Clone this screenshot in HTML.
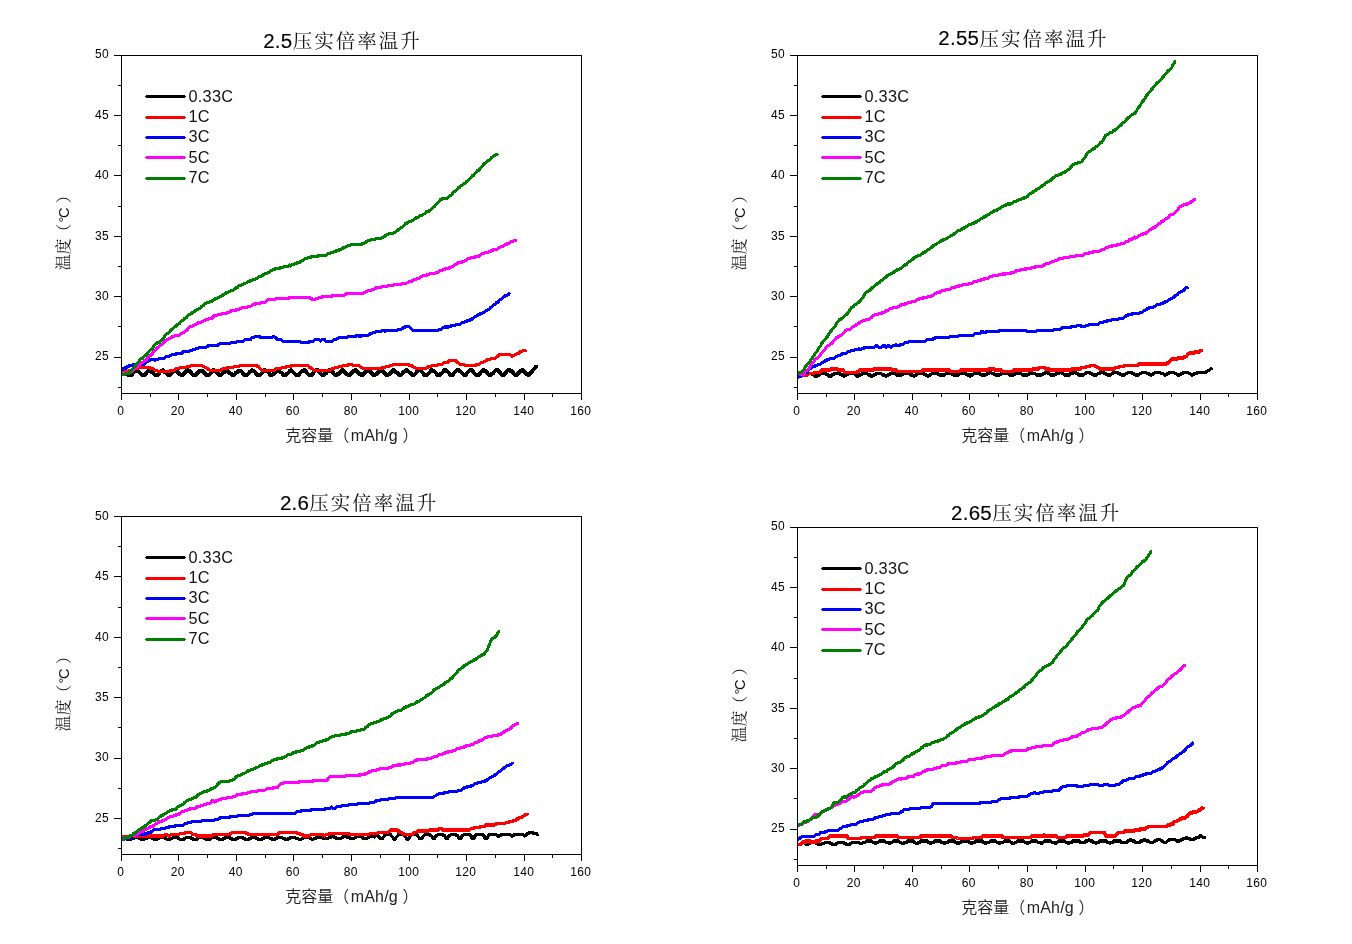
<!DOCTYPE html>
<html lang="zh"><head><meta charset="utf-8"><title>压实倍率温升</title>
<style>html,body{margin:0;padding:0;background:#fff;}svg{display:block;will-change:transform}</style></head><body>
<svg width="1352" height="944" viewBox="0 0 1352 944">
<g>
<clipPath id="cp1"><rect x="122" y="56" width="460" height="338"/></clipPath><g clip-path="url(#cp1)">
<polyline points="121.5,372.5 122.5,371.3 123.5,370.1 124.5,370.1 125.5,371.3 126.5,372.5 127.5,373.7 128.5,374.9 129.6,374.9 130.6,374.9 131.6,374.9 132.6,373.7 133.6,372.5 134.6,371.3 135.6,371.3 136.6,370.1 137.6,371.3 138.6,371.3 139.6,372.5 140.6,373.7 141.6,374.9 142.6,374.9 143.6,374.9 144.6,374.9 145.6,373.7 146.7,372.5 147.7,371.3 148.7,371.3 149.7,371.3 150.7,371.3 151.7,372.5 152.7,372.5 153.7,373.7 154.7,374.9 155.7,374.9 156.7,374.9 157.7,374.9 158.7,373.7 159.7,372.5 160.7,371.3 161.7,371.3 162.8,370.1 163.8,371.3 164.8,372.5 165.8,372.5 166.8,373.7 167.8,374.9 168.8,374.9 169.8,374.9 170.8,373.7 171.8,372.5 172.8,372.5 173.8,371.3 174.8,370.1 175.8,370.1 176.8,371.3 177.9,372.5 178.9,373.7 179.9,373.7 180.9,374.9 181.9,374.9 182.9,374.9 183.9,373.7 184.9,372.5 185.9,371.3 186.9,371.3 187.9,370.1 188.9,371.3 189.9,371.3 190.9,372.5 191.9,373.7 192.9,374.9 194.0,374.9 195.0,374.9 196.0,374.9 197.0,373.7 198.0,372.5 199.0,371.3 200.0,371.3 201.0,371.3 202.0,371.3 203.0,371.3 204.0,372.5 205.0,373.7 206.0,374.9 207.0,374.9 208.0,374.9 209.0,374.9 210.1,373.7 211.1,372.5 212.1,371.3 213.1,370.1 214.1,370.1 215.1,371.3 216.1,371.3 217.1,372.5 218.1,373.7 219.1,374.9 220.1,374.9 221.1,374.9 222.1,373.7 223.1,372.5 224.1,372.5 225.1,371.3 226.2,370.1 227.2,370.1 228.2,371.3 229.2,372.5 230.2,373.7 231.2,373.7 232.2,374.9 233.2,374.9 234.2,374.9 235.2,373.7 236.2,372.5 237.2,372.5 238.2,371.3 239.2,371.3 240.2,371.3 241.2,371.3 242.3,372.5 243.3,373.7 244.3,374.9 245.3,374.9 246.3,374.9 247.3,374.9 248.3,373.7 249.3,372.5 250.3,371.3 251.3,371.3 252.3,370.1 253.3,371.3 254.3,371.3 255.3,372.5 256.3,373.7 257.3,374.9 258.4,374.9 259.4,374.9 260.4,374.9 261.4,373.7 262.4,372.5 263.4,371.3 264.4,370.1 265.4,370.1 266.4,371.3 267.4,371.3 268.4,372.5 269.4,373.7 270.4,374.9 271.4,374.9 272.4,374.9 273.4,373.7 274.5,373.7 275.5,372.5 276.5,371.3 277.5,370.1 278.5,370.1 279.5,371.3 280.5,372.5 281.5,372.5 282.5,373.7 283.5,374.9 284.5,374.9 285.5,374.9 286.5,373.7 287.5,373.7 288.5,372.5 289.5,371.3 290.6,370.1 291.6,371.3 292.6,371.3 293.6,372.5 294.6,373.7 295.6,374.9 296.6,374.9 297.6,374.9 298.6,374.9 299.6,373.7 300.6,372.5 301.6,371.3 302.6,371.3 303.6,370.1 304.6,370.1 305.6,371.3 306.7,372.5 307.7,373.7 308.7,374.9 309.7,374.9 310.7,374.9 311.7,374.9 312.7,373.7 313.7,372.5 314.7,371.3 315.7,370.1 316.7,370.1 317.7,370.1 318.7,371.3 319.7,372.5 320.7,373.7 321.7,374.9 322.8,374.9 323.8,374.9 324.8,373.7 325.8,373.7 326.8,372.5 327.8,371.3 328.8,370.1 329.8,370.1 330.8,371.3 331.8,371.3 332.8,372.5 333.8,373.7 334.8,374.9 335.8,374.9 336.8,374.9 337.8,373.7 338.9,373.7 339.9,372.5 340.9,371.3 341.9,370.1 342.9,370.1 343.9,371.3 344.9,372.5 345.9,373.7 346.9,373.7 347.9,374.9 348.9,374.9 349.9,374.9 350.9,373.7 351.9,372.5 352.9,371.3 353.9,371.3 354.9,370.1 356.0,370.1 357.0,371.3 358.0,372.5 359.0,373.7 360.0,373.7 361.0,374.9 362.0,374.9 363.0,374.9 364.0,373.7 365.0,372.5 366.0,371.3 367.0,370.1 368.0,370.1 369.0,370.1 370.0,371.3 371.0,372.5 372.1,373.7 373.1,374.9 374.1,374.9 375.1,374.9 376.1,373.7 377.1,373.7 378.1,372.5 379.1,371.3 380.1,370.1 381.1,370.1 382.1,371.3 383.1,371.3 384.1,372.5 385.1,373.7 386.1,374.9 387.1,374.9 388.2,374.9 389.2,373.7 390.2,373.7 391.2,372.5 392.2,371.3 393.2,370.1 394.2,370.1 395.2,371.3 396.2,372.5 397.2,372.5 398.2,373.7 399.2,374.9 400.2,374.9 401.2,374.9 402.2,373.7 403.2,372.5 404.3,371.3 405.3,371.3 406.3,370.1 407.3,370.1 408.3,371.3 409.3,372.5 410.3,372.5 411.3,373.7 412.3,374.9 413.3,374.9 414.3,374.9 415.3,373.7 416.3,372.5 417.3,371.3 418.3,370.1 419.3,370.1 420.4,370.1 421.4,371.3 422.4,372.5 423.4,373.7 424.4,374.9 425.4,374.9 426.4,374.9 427.4,374.9 428.4,373.7 429.4,372.5 430.4,371.3 431.4,370.1 432.4,370.1 433.4,371.3 434.4,371.3 435.4,372.5 436.5,373.7 437.5,374.9 438.5,374.9 439.5,374.9 440.5,373.7 441.5,373.7 442.5,372.5 443.5,371.3 444.5,370.1 445.5,370.1 446.5,371.3 447.5,371.3 448.5,372.5 449.5,373.7 450.5,374.9 451.5,374.9 452.6,374.9 453.6,373.7 454.6,372.5 455.6,371.3 456.6,370.1 457.6,370.1 458.6,370.1 459.6,371.3 460.6,371.3 461.6,372.5 462.6,373.7 463.6,374.9 464.6,374.9 465.6,374.9 466.6,373.7 467.6,372.5 468.7,371.3 469.7,370.1 470.7,370.1 471.7,370.1 472.7,371.3 473.7,372.5 474.7,373.7 475.7,374.9 476.7,374.9 477.7,374.9 478.7,374.9 479.7,373.7 480.7,372.5 481.7,371.3 482.7,370.1 483.7,370.1 484.8,371.3 485.8,371.3 486.8,372.5 487.8,373.7 488.8,374.9 489.8,374.9 490.8,374.9 491.8,373.7 492.8,373.7 493.8,372.5 494.8,371.3 495.8,370.1 496.8,370.1 497.8,370.1 498.8,371.3 499.8,372.5 500.9,373.7 501.9,374.9 502.9,374.9 503.9,374.9 504.9,373.7 505.9,372.5 506.9,371.3 507.9,370.1 508.9,370.1 509.9,370.1 510.9,371.3 511.9,371.3 512.9,372.5 513.9,373.7 514.9,374.9 515.9,374.9 517.0,374.9 518.0,373.7 519.0,372.5 520.0,371.3 521.0,371.3 522.0,370.1 523.0,370.1 524.0,371.3 525.0,372.5 526.0,373.7 527.0,373.7 528.0,374.9 529.0,374.9 530.0,373.7 531.0,372.5 532.0,371.3 533.1,370.1 534.1,368.9 535.1,367.7 536.1,366.5" fill="none" stroke="#000000" stroke-width="3.9" stroke-linejoin="round" stroke-linecap="round" shape-rendering="crispEdges"/>
<polyline points="121.5,372.5 122.5,372.5 123.5,372.5 124.5,372.5 125.5,371.3 126.5,371.3 127.5,371.3 128.5,371.3 129.6,370.1 130.6,370.1 131.6,370.1 132.6,370.1 133.6,368.9 134.6,368.9 135.6,368.9 136.6,368.9 137.6,368.9 138.6,367.7 139.6,367.7 140.6,367.7 141.6,367.7 142.6,367.7 143.6,367.7 144.6,367.7 145.6,367.7 146.7,367.7 147.7,367.7 148.7,367.7 149.7,367.7 150.7,368.9 151.7,368.9 152.7,368.9 153.7,368.9 154.7,370.1 155.7,370.1 156.7,370.1 157.7,371.3 158.7,371.3 159.7,371.3 160.7,371.3 161.7,371.3 162.8,371.3 163.8,371.3 164.8,371.3 165.8,371.3 166.8,371.3 167.8,371.3 168.8,371.3 169.8,371.3 170.8,370.1 171.8,370.1 172.8,370.1 173.8,370.1 174.8,370.1 175.8,368.9 176.8,368.9 177.9,368.9 178.9,368.9 179.9,367.7 180.9,367.7 181.9,367.7 182.9,367.7 183.9,367.7 184.9,367.7 185.9,367.7 186.9,366.5 187.9,366.5 188.9,366.5 189.9,366.5 190.9,365.3 191.9,365.3 192.9,365.3 194.0,365.3 195.0,365.3 196.0,365.3 197.0,365.3 198.0,365.3 199.0,365.3 200.0,365.3 201.0,365.3 202.0,365.3 203.0,366.5 204.0,366.5 205.0,367.7 206.0,367.7 207.0,368.9 208.0,368.9 209.0,370.1 210.1,370.1 211.1,370.1 212.1,370.1 213.1,370.1 214.1,370.1 215.1,370.1 216.1,370.1 217.1,370.1 218.1,370.1 219.1,370.1 220.1,370.1 221.1,370.1 222.1,368.9 223.1,368.9 224.1,368.9 225.1,368.9 226.2,368.9 227.2,367.7 228.2,367.7 229.2,367.7 230.2,367.7 231.2,367.7 232.2,367.7 233.2,367.7 234.2,366.5 235.2,366.5 236.2,366.5 237.2,366.5 238.2,366.5 239.2,366.5 240.2,365.3 241.2,365.3 242.3,365.3 243.3,365.3 244.3,365.3 245.3,365.3 246.3,365.3 247.3,365.3 248.3,365.3 249.3,365.3 250.3,365.3 251.3,365.3 252.3,365.3 253.3,365.3 254.3,365.3 255.3,365.3 256.3,365.3 257.3,366.5 258.4,366.5 259.4,367.7 260.4,368.9 261.4,370.1 262.4,370.1 263.4,370.1 264.4,370.1 265.4,370.1 266.4,370.1 267.4,370.1 268.4,370.1 269.4,370.1 270.4,370.1 271.4,370.1 272.4,370.1 273.4,370.1 274.5,370.1 275.5,368.9 276.5,368.9 277.5,368.9 278.5,368.9 279.5,368.9 280.5,368.9 281.5,367.7 282.5,367.7 283.5,367.7 284.5,367.7 285.5,367.7 286.5,366.5 287.5,366.5 288.5,366.5 289.5,366.5 290.6,366.5 291.6,365.3 292.6,365.3 293.6,365.3 294.6,365.3 295.6,365.3 296.6,365.3 297.6,365.3 298.6,365.3 299.6,365.3 300.6,365.3 301.6,365.3 302.6,365.3 303.6,365.3 304.6,365.3 305.6,365.3 306.7,365.3 307.7,365.3 308.7,366.5 309.7,367.7 310.7,367.7 311.7,368.9 312.7,368.9 313.7,370.1 314.7,370.1 315.7,370.1 316.7,370.1 317.7,370.1 318.7,370.1 319.7,370.1 320.7,370.1 321.7,370.1 322.8,370.1 323.8,370.1 324.8,370.1 325.8,370.1 326.8,370.1 327.8,370.1 328.8,370.1 329.8,370.1 330.8,370.1 331.8,368.9 332.8,368.9 333.8,368.9 334.8,367.7 335.8,367.7 336.8,367.7 337.8,367.7 338.9,366.5 339.9,366.5 340.9,366.5 341.9,366.5 342.9,365.3 343.9,365.3 344.9,365.3 345.9,365.3 346.9,365.3 347.9,365.3 348.9,364.1 349.9,364.1 350.9,364.1 351.9,364.1 352.9,365.3 353.9,365.3 354.9,365.3 356.0,365.3 357.0,365.3 358.0,365.3 359.0,365.3 360.0,366.5 361.0,367.7 362.0,367.7 363.0,368.9 364.0,368.9 365.0,368.9 366.0,368.9 367.0,368.9 368.0,368.9 369.0,368.9 370.0,368.9 371.0,368.9 372.1,368.9 373.1,368.9 374.1,368.9 375.1,368.9 376.1,368.9 377.1,368.9 378.1,368.9 379.1,368.9 380.1,368.9 381.1,368.9 382.1,367.7 383.1,367.7 384.1,367.7 385.1,367.7 386.1,366.5 387.1,366.5 388.2,366.5 389.2,366.5 390.2,365.3 391.2,365.3 392.2,365.3 393.2,364.1 394.2,364.1 395.2,364.1 396.2,364.1 397.2,364.1 398.2,364.1 399.2,364.1 400.2,364.1 401.2,364.1 402.2,364.1 403.2,364.1 404.3,364.1 405.3,364.1 406.3,364.1 407.3,364.1 408.3,364.1 409.3,365.3 410.3,365.3 411.3,365.3 412.3,366.5 413.3,366.5 414.3,367.7 415.3,367.7 416.3,368.9 417.3,368.9 418.3,368.9 419.3,368.9 420.4,368.9 421.4,368.9 422.4,368.9 423.4,368.9 424.4,368.9 425.4,368.9 426.4,367.7 427.4,367.7 428.4,366.5 429.4,366.5 430.4,366.5 431.4,366.5 432.4,365.3 433.4,365.3 434.4,365.3 435.4,365.3 436.5,365.3 437.5,365.3 438.5,364.1 439.5,364.1 440.5,364.1 441.5,364.1 442.5,364.1 443.5,362.8 444.5,362.8 445.5,362.8 446.5,362.8 447.5,362.8 448.5,361.6 449.5,360.4 450.5,360.4 451.5,360.4 452.6,360.4 453.6,360.4 454.6,360.4 455.6,360.4 456.6,361.6 457.6,362.8 458.6,362.8 459.6,364.1 460.6,364.1 461.6,364.1 462.6,364.1 463.6,364.1 464.6,365.3 465.6,365.3 466.6,365.3 467.6,365.3 468.7,365.3 469.7,365.3 470.7,365.3 471.7,365.3 472.7,365.3 473.7,365.3 474.7,365.3 475.7,365.3 476.7,364.1 477.7,364.1 478.7,364.1 479.7,364.1 480.7,362.8 481.7,362.8 482.7,362.8 483.7,361.6 484.8,361.6 485.8,360.4 486.8,360.4 487.8,359.2 488.8,359.2 489.8,359.2 490.8,359.2 491.8,358.0 492.8,358.0 493.8,358.0 494.8,358.0 495.8,358.0 496.8,356.8 497.8,356.8 498.8,354.4 499.8,354.4 500.9,354.4 501.9,354.4 502.9,354.4 503.9,354.4 504.9,354.4 505.9,354.4 506.9,354.4 507.9,354.4 508.9,354.4 509.9,354.4 510.9,355.6 511.9,356.8 512.9,355.6 513.9,355.6 514.9,354.4 515.9,354.4 517.0,353.2 518.0,353.2 519.0,353.2 520.0,351.9 521.0,351.9 522.0,351.9 523.0,350.7 524.0,350.7 525.0,350.7 525.4,350.7" fill="none" stroke="#ff0000" stroke-width="3" stroke-linejoin="round" stroke-linecap="round" shape-rendering="crispEdges"/>
<polyline points="121.5,368.9 122.5,368.9 123.5,368.9 124.5,367.7 125.5,367.7 126.5,367.7 127.5,366.5 128.5,366.5 129.6,365.3 130.6,365.3 131.6,365.3 132.6,365.3 133.6,364.1 134.6,365.3 135.6,364.1 136.6,364.1 137.6,364.1 138.6,364.1 139.6,364.1 140.6,364.1 141.6,364.1 142.6,364.1 143.6,364.1 144.6,364.1 145.6,362.8 146.7,361.6 147.7,361.6 148.7,360.4 149.7,360.4 150.7,359.2 151.7,359.2 152.7,359.2 153.7,359.2 154.7,360.4 155.7,359.2 156.7,359.2 157.7,359.2 158.7,359.2 159.7,358.0 160.7,358.0 161.7,358.0 162.8,358.0 163.8,358.0 164.8,358.0 165.8,356.8 166.8,356.8 167.8,356.8 168.8,356.8 169.8,355.6 170.8,355.6 171.8,354.4 172.8,354.4 173.8,354.4 174.8,354.4 175.8,354.4 176.8,353.2 177.9,353.2 178.9,353.2 179.9,353.2 180.9,353.2 181.9,353.2 182.9,351.9 183.9,351.9 184.9,351.9 185.9,351.9 186.9,351.9 187.9,351.9 188.9,351.9 189.9,350.7 190.9,350.7 191.9,350.7 192.9,349.5 194.0,349.5 195.0,349.5 196.0,348.3 197.0,348.3 198.0,348.3 199.0,347.1 200.0,347.1 201.0,347.1 202.0,347.1 203.0,347.1 204.0,347.1 205.0,347.1 206.0,347.1 207.0,347.1 208.0,345.9 209.0,345.9 210.1,345.9 211.1,345.9 212.1,345.9 213.1,345.9 214.1,345.9 215.1,345.9 216.1,345.9 217.1,345.9 218.1,344.7 219.1,344.7 220.1,343.5 221.1,343.5 222.1,343.5 223.1,343.5 224.1,343.5 225.1,343.5 226.2,343.5 227.2,343.5 228.2,343.5 229.2,343.5 230.2,343.5 231.2,342.3 232.2,342.3 233.2,342.3 234.2,342.3 235.2,342.3 236.2,342.3 237.2,341.1 238.2,341.1 239.2,341.1 240.2,341.1 241.2,341.1 242.3,341.1 243.3,341.1 244.3,339.8 245.3,339.8 246.3,339.8 247.3,339.8 248.3,339.8 249.3,339.8 250.3,339.8 251.3,338.6 252.3,337.4 253.3,337.4 254.3,337.4 255.3,336.2 256.3,336.2 257.3,336.2 258.4,336.2 259.4,336.2 260.4,337.4 261.4,337.4 262.4,337.4 263.4,337.4 264.4,337.4 265.4,337.4 266.4,337.4 267.4,337.4 268.4,337.4 269.4,337.4 270.4,337.4 271.4,337.4 272.4,337.4 273.4,336.2 274.5,337.4 275.5,337.4 276.5,338.6 277.5,339.8 278.5,339.8 279.5,339.8 280.5,339.8 281.5,339.8 282.5,341.1 283.5,341.1 284.5,341.1 285.5,341.1 286.5,341.1 287.5,341.1 288.5,341.1 289.5,341.1 290.6,341.1 291.6,341.1 292.6,341.1 293.6,341.1 294.6,341.1 295.6,341.1 296.6,341.1 297.6,341.1 298.6,341.1 299.6,341.1 300.6,342.3 301.6,342.3 302.6,342.3 303.6,342.3 304.6,342.3 305.6,342.3 306.7,342.3 307.7,342.3 308.7,342.3 309.7,341.1 310.7,341.1 311.7,341.1 312.7,341.1 313.7,341.1 314.7,339.8 315.7,339.8 316.7,339.8 317.7,339.8 318.7,339.8 319.7,339.8 320.7,341.1 321.7,339.8 322.8,339.8 323.8,339.8 324.8,339.8 325.8,341.1 326.8,341.1 327.8,341.1 328.8,341.1 329.8,341.1 330.8,341.1 331.8,341.1 332.8,341.1 333.8,339.8 334.8,339.8 335.8,339.8 336.8,338.6 337.8,338.6 338.9,337.4 339.9,337.4 340.9,337.4 341.9,337.4 342.9,337.4 343.9,337.4 344.9,337.4 345.9,337.4 346.9,337.4 347.9,336.2 348.9,336.2 349.9,336.2 350.9,336.2 351.9,336.2 352.9,336.2 353.9,336.2 354.9,336.2 356.0,336.2 357.0,335.0 358.0,335.0 359.0,336.2 360.0,336.2 361.0,336.2 362.0,335.0 363.0,335.0 364.0,335.0 365.0,335.0 366.0,335.0 367.0,335.0 368.0,335.0 369.0,335.0 370.0,333.8 371.0,333.8 372.1,333.8 373.1,332.6 374.1,332.6 375.1,332.6 376.1,331.4 377.1,331.4 378.1,331.4 379.1,331.4 380.1,331.4 381.1,331.4 382.1,330.2 383.1,330.2 384.1,330.2 385.1,331.4 386.1,330.2 387.1,330.2 388.2,330.2 389.2,330.2 390.2,330.2 391.2,330.2 392.2,330.2 393.2,330.2 394.2,330.2 395.2,330.2 396.2,330.2 397.2,330.2 398.2,329.0 399.2,329.0 400.2,329.0 401.2,329.0 402.2,329.0 403.2,327.8 404.3,327.8 405.3,326.5 406.3,326.5 407.3,326.5 408.3,326.5 409.3,326.5 410.3,327.8 411.3,329.0 412.3,330.2 413.3,330.2 414.3,330.2 415.3,330.2 416.3,330.2 417.3,330.2 418.3,330.2 419.3,330.2 420.4,330.2 421.4,330.2 422.4,330.2 423.4,330.2 424.4,330.2 425.4,330.2 426.4,330.2 427.4,330.2 428.4,330.2 429.4,330.2 430.4,330.2 431.4,330.2 432.4,330.2 433.4,330.2 434.4,330.2 435.4,330.2 436.5,330.2 437.5,330.2 438.5,330.2 439.5,329.0 440.5,329.0 441.5,329.0 442.5,327.8 443.5,327.8 444.5,327.8 445.5,326.5 446.5,327.8 447.5,327.8 448.5,326.5 449.5,326.5 450.5,326.5 451.5,325.3 452.6,325.3 453.6,325.3 454.6,325.3 455.6,325.3 456.6,324.1 457.6,324.1 458.6,324.1 459.6,324.1 460.6,324.1 461.6,322.9 462.6,322.9 463.6,322.9 464.6,321.7 465.6,321.7 466.6,321.7 467.6,320.5 468.7,320.5 469.7,320.5 470.7,319.3 471.7,319.3 472.7,318.1 473.7,318.1 474.7,316.9 475.7,316.9 476.7,315.6 477.7,315.6 478.7,314.4 479.7,314.4 480.7,313.2 481.7,313.2 482.7,313.2 483.7,312.0 484.8,312.0 485.8,310.8 486.8,310.8 487.8,309.6 488.8,309.6 489.8,308.4 490.8,307.2 491.8,307.2 492.8,306.0 493.8,304.8 494.8,304.8 495.8,303.5 496.8,302.3 497.8,302.3 498.8,301.1 499.8,299.9 500.9,299.9 501.9,298.7 502.9,297.5 503.9,296.3 504.9,296.3 505.9,295.1 506.9,295.1 507.9,295.1 508.9,293.9 509.2,293.9" fill="none" stroke="#0000ff" stroke-width="3" stroke-linejoin="round" stroke-linecap="round" shape-rendering="crispEdges"/>
<polyline points="121.5,373.7 122.5,373.7 123.5,373.7 124.5,372.5 125.5,372.5 126.5,372.5 127.5,372.5 128.5,372.5 129.6,372.5 130.6,372.5 131.6,371.3 132.6,370.1 133.6,370.1 134.6,368.9 135.6,367.7 136.6,367.7 137.6,366.5 138.6,365.3 139.6,365.3 140.6,364.1 141.6,362.8 142.6,362.8 143.6,361.6 144.6,360.4 145.6,360.4 146.7,359.2 147.7,358.0 148.7,356.8 149.7,355.6 150.7,355.6 151.7,354.4 152.7,353.2 153.7,351.9 154.7,350.7 155.7,349.5 156.7,348.3 157.7,347.1 158.7,347.1 159.7,345.9 160.7,344.7 161.7,344.7 162.8,343.5 163.8,342.3 164.8,341.1 165.8,341.1 166.8,339.8 167.8,339.8 168.8,338.6 169.8,338.6 170.8,337.4 171.8,337.4 172.8,336.2 173.8,336.2 174.8,336.2 175.8,335.0 176.8,335.0 177.9,335.0 178.9,335.0 179.9,335.0 180.9,333.8 181.9,333.8 182.9,332.6 183.9,332.6 184.9,331.4 185.9,330.2 186.9,330.2 187.9,329.0 188.9,327.8 189.9,326.5 190.9,326.5 191.9,326.5 192.9,325.3 194.0,325.3 195.0,324.1 196.0,324.1 197.0,324.1 198.0,322.9 199.0,322.9 200.0,322.9 201.0,322.9 202.0,321.7 203.0,321.7 204.0,320.5 205.0,320.5 206.0,319.3 207.0,319.3 208.0,319.3 209.0,318.1 210.1,318.1 211.1,318.1 212.1,318.1 213.1,316.9 214.1,315.6 215.1,315.6 216.1,315.6 217.1,315.6 218.1,314.4 219.1,314.4 220.1,314.4 221.1,314.4 222.1,313.2 223.1,313.2 224.1,313.2 225.1,313.2 226.2,313.2 227.2,312.0 228.2,312.0 229.2,312.0 230.2,312.0 231.2,310.8 232.2,310.8 233.2,310.8 234.2,310.8 235.2,310.8 236.2,309.6 237.2,309.6 238.2,309.6 239.2,309.6 240.2,308.4 241.2,308.4 242.3,307.2 243.3,307.2 244.3,307.2 245.3,307.2 246.3,307.2 247.3,307.2 248.3,306.0 249.3,306.0 250.3,306.0 251.3,306.0 252.3,304.8 253.3,304.8 254.3,304.8 255.3,303.5 256.3,303.5 257.3,303.5 258.4,303.5 259.4,303.5 260.4,303.5 261.4,302.3 262.4,302.3 263.4,302.3 264.4,302.3 265.4,302.3 266.4,301.1 267.4,299.9 268.4,299.9 269.4,299.9 270.4,299.9 271.4,299.9 272.4,299.9 273.4,299.9 274.5,299.9 275.5,298.7 276.5,298.7 277.5,298.7 278.5,298.7 279.5,298.7 280.5,298.7 281.5,298.7 282.5,298.7 283.5,298.7 284.5,298.7 285.5,298.7 286.5,298.7 287.5,298.7 288.5,298.7 289.5,297.5 290.6,297.5 291.6,297.5 292.6,297.5 293.6,297.5 294.6,297.5 295.6,297.5 296.6,297.5 297.6,297.5 298.6,297.5 299.6,297.5 300.6,297.5 301.6,297.5 302.6,297.5 303.6,297.5 304.6,297.5 305.6,297.5 306.7,297.5 307.7,297.5 308.7,297.5 309.7,297.5 310.7,298.7 311.7,298.7 312.7,299.9 313.7,299.9 314.7,299.9 315.7,298.7 316.7,298.7 317.7,298.7 318.7,297.5 319.7,297.5 320.7,297.5 321.7,297.5 322.8,296.3 323.8,296.3 324.8,296.3 325.8,296.3 326.8,296.3 327.8,296.3 328.8,296.3 329.8,296.3 330.8,296.3 331.8,296.3 332.8,295.1 333.8,295.1 334.8,295.1 335.8,295.1 336.8,295.1 337.8,295.1 338.9,295.1 339.9,295.1 340.9,295.1 341.9,295.1 342.9,295.1 343.9,295.1 344.9,295.1 345.9,293.9 346.9,293.9 347.9,293.9 348.9,293.9 349.9,293.9 350.9,293.9 351.9,293.9 352.9,293.9 353.9,293.9 354.9,293.9 356.0,293.9 357.0,293.9 358.0,293.9 359.0,293.9 360.0,293.9 361.0,293.9 362.0,293.9 363.0,293.9 364.0,292.7 365.0,292.7 366.0,291.4 367.0,291.4 368.0,290.2 369.0,290.2 370.0,290.2 371.0,290.2 372.1,289.0 373.1,289.0 374.1,289.0 375.1,289.0 376.1,287.8 377.1,287.8 378.1,287.8 379.1,287.8 380.1,287.8 381.1,287.8 382.1,286.6 383.1,286.6 384.1,286.6 385.1,286.6 386.1,286.6 387.1,286.6 388.2,285.4 389.2,285.4 390.2,285.4 391.2,285.4 392.2,285.4 393.2,285.4 394.2,284.2 395.2,284.2 396.2,284.2 397.2,284.2 398.2,284.2 399.2,284.2 400.2,284.2 401.2,284.2 402.2,283.0 403.2,283.0 404.3,283.0 405.3,283.0 406.3,283.0 407.3,283.0 408.3,281.8 409.3,281.8 410.3,281.8 411.3,281.8 412.3,280.6 413.3,280.6 414.3,279.4 415.3,279.4 416.3,279.4 417.3,278.1 418.3,278.1 419.3,278.1 420.4,276.9 421.4,276.9 422.4,275.7 423.4,275.7 424.4,275.7 425.4,275.7 426.4,275.7 427.4,274.5 428.4,274.5 429.4,274.5 430.4,273.3 431.4,273.3 432.4,273.3 433.4,273.3 434.4,273.3 435.4,273.3 436.5,272.1 437.5,272.1 438.5,272.1 439.5,270.9 440.5,270.9 441.5,270.9 442.5,269.7 443.5,269.7 444.5,269.7 445.5,268.5 446.5,268.5 447.5,268.5 448.5,268.5 449.5,267.2 450.5,267.2 451.5,267.2 452.6,266.0 453.6,266.0 454.6,264.8 455.6,264.8 456.6,263.6 457.6,263.6 458.6,262.4 459.6,262.4 460.6,262.4 461.6,262.4 462.6,261.2 463.6,261.2 464.6,261.2 465.6,260.0 466.6,260.0 467.6,258.8 468.7,258.8 469.7,258.8 470.7,257.6 471.7,257.6 472.7,257.6 473.7,257.6 474.7,257.6 475.7,256.4 476.7,256.4 477.7,256.4 478.7,256.4 479.7,255.2 480.7,255.2 481.7,253.9 482.7,253.9 483.7,253.9 484.8,252.7 485.8,252.7 486.8,252.7 487.8,252.7 488.8,251.5 489.8,251.5 490.8,251.5 491.8,250.3 492.8,250.3 493.8,249.1 494.8,249.1 495.8,249.1 496.8,249.1 497.8,249.1 498.8,247.9 499.8,247.9 500.9,246.7 501.9,246.7 502.9,246.7 503.9,245.5 504.9,244.3 505.9,244.3 506.9,244.3 507.9,243.0 508.9,243.0 509.9,243.0 510.9,241.8 511.9,241.8 512.9,241.8 513.9,240.6 514.9,240.6 515.9,240.6 516.0,240.6" fill="none" stroke="#ff00ff" stroke-width="3" stroke-linejoin="round" stroke-linecap="round" shape-rendering="crispEdges"/>
<polyline points="121.5,374.9 122.5,374.9 123.5,374.9 124.5,374.9 125.5,373.7 126.5,373.7 127.5,373.7 128.5,373.7 129.6,372.5 130.6,371.3 131.6,370.1 132.6,368.9 133.6,367.7 134.6,366.5 135.6,365.3 136.6,364.1 137.6,362.8 138.6,361.6 139.6,360.4 140.6,359.2 141.6,358.0 142.6,358.0 143.6,356.8 144.6,355.6 145.6,355.6 146.7,354.4 147.7,353.2 148.7,351.9 149.7,350.7 150.7,349.5 151.7,349.5 152.7,348.3 153.7,345.9 154.7,344.7 155.7,343.5 156.7,343.5 157.7,342.3 158.7,342.3 159.7,342.3 160.7,341.1 161.7,339.8 162.8,338.6 163.8,338.6 164.8,336.2 165.8,335.0 166.8,333.8 167.8,333.8 168.8,332.6 169.8,331.4 170.8,330.2 171.8,329.0 172.8,329.0 173.8,327.8 174.8,326.5 175.8,326.5 176.8,325.3 177.9,324.1 178.9,324.1 179.9,322.9 180.9,321.7 181.9,320.5 182.9,320.5 183.9,319.3 184.9,318.1 185.9,318.1 186.9,316.9 187.9,315.6 188.9,314.4 189.9,314.4 190.9,313.2 191.9,313.2 192.9,312.0 194.0,312.0 195.0,310.8 196.0,310.8 197.0,309.6 198.0,309.6 199.0,308.4 200.0,308.4 201.0,307.2 202.0,306.0 203.0,306.0 204.0,304.8 205.0,303.5 206.0,303.5 207.0,302.3 208.0,302.3 209.0,302.3 210.1,301.1 211.1,301.1 212.1,301.1 213.1,299.9 214.1,299.9 215.1,298.7 216.1,298.7 217.1,298.7 218.1,297.5 219.1,297.5 220.1,296.3 221.1,296.3 222.1,295.1 223.1,295.1 224.1,293.9 225.1,293.9 226.2,292.7 227.2,292.7 228.2,292.7 229.2,291.4 230.2,291.4 231.2,290.2 232.2,290.2 233.2,290.2 234.2,289.0 235.2,289.0 236.2,287.8 237.2,287.8 238.2,286.6 239.2,285.4 240.2,285.4 241.2,285.4 242.3,284.2 243.3,284.2 244.3,283.0 245.3,283.0 246.3,283.0 247.3,281.8 248.3,281.8 249.3,281.8 250.3,280.6 251.3,280.6 252.3,280.6 253.3,279.4 254.3,279.4 255.3,279.4 256.3,278.1 257.3,278.1 258.4,276.9 259.4,276.9 260.4,276.9 261.4,275.7 262.4,275.7 263.4,274.5 264.4,274.5 265.4,273.3 266.4,273.3 267.4,273.3 268.4,272.1 269.4,272.1 270.4,270.9 271.4,270.9 272.4,269.7 273.4,269.7 274.5,269.7 275.5,268.5 276.5,268.5 277.5,268.5 278.5,268.5 279.5,268.5 280.5,267.2 281.5,267.2 282.5,267.2 283.5,267.2 284.5,266.0 285.5,266.0 286.5,266.0 287.5,266.0 288.5,266.0 289.5,264.8 290.6,266.0 291.6,264.8 292.6,264.8 293.6,264.8 294.6,263.6 295.6,263.6 296.6,263.6 297.6,262.4 298.6,262.4 299.6,262.4 300.6,261.2 301.6,261.2 302.6,260.0 303.6,260.0 304.6,258.8 305.6,258.8 306.7,258.8 307.7,257.6 308.7,257.6 309.7,257.6 310.7,257.6 311.7,256.4 312.7,256.4 313.7,256.4 314.7,256.4 315.7,256.4 316.7,256.4 317.7,256.4 318.7,255.2 319.7,255.2 320.7,255.2 321.7,255.2 322.8,255.2 323.8,255.2 324.8,255.2 325.8,255.2 326.8,255.2 327.8,253.9 328.8,253.9 329.8,253.9 330.8,252.7 331.8,252.7 332.8,252.7 333.8,251.5 334.8,251.5 335.8,251.5 336.8,250.3 337.8,250.3 338.9,250.3 339.9,249.1 340.9,249.1 341.9,249.1 342.9,247.9 343.9,247.9 344.9,247.9 345.9,246.7 346.9,246.7 347.9,245.5 348.9,245.5 349.9,245.5 350.9,244.3 351.9,244.3 352.9,244.3 353.9,244.3 354.9,244.3 356.0,244.3 357.0,244.3 358.0,244.3 359.0,244.3 360.0,244.3 361.0,244.3 362.0,244.3 363.0,243.0 364.0,243.0 365.0,243.0 366.0,241.8 367.0,241.8 368.0,240.6 369.0,240.6 370.0,240.6 371.0,239.4 372.1,239.4 373.1,239.4 374.1,239.4 375.1,239.4 376.1,238.2 377.1,238.2 378.1,238.2 379.1,238.2 380.1,238.2 381.1,238.2 382.1,237.0 383.1,237.0 384.1,237.0 385.1,235.8 386.1,235.8 387.1,234.6 388.2,234.6 389.2,233.4 390.2,233.4 391.2,233.4 392.2,233.4 393.2,233.4 394.2,232.2 395.2,232.2 396.2,230.9 397.2,230.9 398.2,229.7 399.2,229.7 400.2,228.5 401.2,227.3 402.2,227.3 403.2,226.1 404.3,224.9 405.3,223.7 406.3,223.7 407.3,222.5 408.3,222.5 409.3,221.3 410.3,221.3 411.3,221.3 412.3,220.1 413.3,220.1 414.3,218.8 415.3,218.8 416.3,217.6 417.3,217.6 418.3,217.6 419.3,216.4 420.4,215.2 421.4,215.2 422.4,215.2 423.4,214.0 424.4,214.0 425.4,212.8 426.4,211.6 427.4,211.6 428.4,211.6 429.4,210.4 430.4,210.4 431.4,209.2 432.4,208.0 433.4,206.8 434.4,206.8 435.4,205.5 436.5,204.3 437.5,203.1 438.5,201.9 439.5,200.7 440.5,199.5 441.5,199.5 442.5,198.3 443.5,198.3 444.5,198.3 445.5,198.3 446.5,198.3 447.5,198.3 448.5,197.1 449.5,195.9 450.5,195.9 451.5,194.7 452.6,193.4 453.6,192.2 454.6,191.0 455.6,191.0 456.6,189.8 457.6,188.6 458.6,187.4 459.6,187.4 460.6,186.2 461.6,185.0 462.6,185.0 463.6,183.8 464.6,183.8 465.6,182.6 466.6,181.3 467.6,181.3 468.7,180.1 469.7,178.9 470.7,177.7 471.7,176.5 472.7,175.3 473.7,175.3 474.7,174.1 475.7,172.9 476.7,171.7 477.7,170.4 478.7,170.4 479.7,169.2 480.7,168.0 481.7,166.8 482.7,165.6 483.7,164.4 484.8,163.2 485.8,163.2 486.8,162.0 487.8,160.8 488.8,160.8 489.8,159.6 490.8,158.3 491.8,157.1 492.8,157.1 493.8,155.9 494.8,155.9 495.8,154.7 496.8,154.7 497.1,154.7" fill="none" stroke="#008000" stroke-width="3" stroke-linejoin="round" stroke-linecap="round" shape-rendering="crispEdges"/>
</g>
<g fill="#000" shape-rendering="crispEdges">
<rect x="121" y="55" width="461" height="1"/>
<rect x="121" y="393" width="461" height="1"/>
<rect x="121" y="55" width="1" height="339"/>
<rect x="581" y="55" width="1" height="339"/>
<rect x="118" y="387" width="3" height="1"/>
<rect x="114" y="357" width="7" height="1"/>
<rect x="118" y="326" width="3" height="1"/>
<rect x="114" y="296" width="7" height="1"/>
<rect x="118" y="266" width="3" height="1"/>
<rect x="114" y="236" width="7" height="1"/>
<rect x="118" y="206" width="3" height="1"/>
<rect x="114" y="175" width="7" height="1"/>
<rect x="118" y="145" width="3" height="1"/>
<rect x="114" y="115" width="7" height="1"/>
<rect x="118" y="85" width="3" height="1"/>
<rect x="114" y="55" width="7" height="1"/>
<rect x="121" y="394" width="1" height="6"/>
<rect x="150" y="394" width="1" height="3"/>
<rect x="178" y="394" width="1" height="6"/>
<rect x="207" y="394" width="1" height="3"/>
<rect x="236" y="394" width="1" height="6"/>
<rect x="265" y="394" width="1" height="3"/>
<rect x="293" y="394" width="1" height="6"/>
<rect x="322" y="394" width="1" height="3"/>
<rect x="351" y="394" width="1" height="6"/>
<rect x="380" y="394" width="1" height="3"/>
<rect x="409" y="394" width="1" height="6"/>
<rect x="437" y="394" width="1" height="3"/>
<rect x="466" y="394" width="1" height="6"/>
<rect x="495" y="394" width="1" height="3"/>
<rect x="524" y="394" width="1" height="6"/>
<rect x="552" y="394" width="1" height="3"/>
<rect x="581" y="394" width="1" height="6"/>
</g>
<g font-family="'Liberation Sans','Noto Sans CJK SC',sans-serif" font-size="12" fill="#000" letter-spacing="0.3">
<text x="109.05" y="360.2" text-anchor="end">25</text>
<text x="109.05" y="300.2" text-anchor="end">30</text>
<text x="109.05" y="240.2" text-anchor="end">35</text>
<text x="109.05" y="179.2" text-anchor="end">40</text>
<text x="109.05" y="119.2" text-anchor="end">45</text>
<text x="109.05" y="58.2" text-anchor="end">50</text>
<text x="120.8" y="415.0" text-anchor="middle">0</text>
<text x="177.8" y="415.0" text-anchor="middle">20</text>
<text x="235.8" y="415.0" text-anchor="middle">40</text>
<text x="292.8" y="415.0" text-anchor="middle">60</text>
<text x="350.8" y="415.0" text-anchor="middle">80</text>
<text x="408.8" y="415.0" text-anchor="middle">100</text>
<text x="465.8" y="415.0" text-anchor="middle">120</text>
<text x="523.8" y="415.0" text-anchor="middle">140</text>
<text x="580.8" y="415.0" text-anchor="middle">160</text>
</g>
<g fill="#000000" shape-rendering="crispEdges"><rect x="146" y="95" width="39" height="3"/><rect x="145" y="96" width="41" height="1"/></g>
<text x="188.4" y="101.8" font-family="'Liberation Sans','Noto Sans CJK SC',sans-serif" font-size="16.3" letter-spacing="0.3" fill="#111">0.33C</text>
<g fill="#ff0000" shape-rendering="crispEdges"><rect x="146" y="116" width="39" height="3"/><rect x="145" y="117" width="41" height="1"/></g>
<text x="188.4" y="122.0" font-family="'Liberation Sans','Noto Sans CJK SC',sans-serif" font-size="16.3" letter-spacing="0.3" fill="#111">1C</text>
<g fill="#0000ff" shape-rendering="crispEdges"><rect x="146" y="136" width="39" height="3"/><rect x="145" y="137" width="41" height="1"/></g>
<text x="188.4" y="142.3" font-family="'Liberation Sans','Noto Sans CJK SC',sans-serif" font-size="16.3" letter-spacing="0.3" fill="#111">3C</text>
<g fill="#ff00ff" shape-rendering="crispEdges"><rect x="146" y="156" width="39" height="3"/><rect x="145" y="157" width="41" height="1"/></g>
<text x="188.4" y="162.6" font-family="'Liberation Sans','Noto Sans CJK SC',sans-serif" font-size="16.3" letter-spacing="0.3" fill="#111">5C</text>
<g fill="#008000" shape-rendering="crispEdges"><rect x="146" y="177" width="39" height="3"/><rect x="145" y="178" width="41" height="1"/></g>
<text x="188.4" y="182.8" font-family="'Liberation Sans','Noto Sans CJK SC',sans-serif" font-size="16.3" letter-spacing="0.3" fill="#111">7C</text>
<text x="263.2" y="47.7" font-size="20.5" fill="#000" stroke="#000" stroke-width="0.15" font-family="'Liberation Sans','Noto Serif CJK SC',serif" letter-spacing="0.25">2.5<tspan font-size="19.5" font-weight="400" fill="#111" stroke="none" letter-spacing="2.0" dx="0.2" dy="0.6">压实倍率温升</tspan></text>
<text x="285.3" y="440.8" font-size="16" fill="#222" font-family="'Liberation Sans','Noto Sans CJK SC',sans-serif"><tspan font-weight="350">克容量（</tspan><tspan dx="1.4" letter-spacing="0.2">mAh/g</tspan><tspan dx="4.6" font-weight="350">）</tspan></text>
<text transform="translate(68.5,270.5) rotate(-90)" font-size="16" fill="#111" font-family="'Liberation Sans','Noto Serif CJK SC',serif"><tspan font-weight="400">温度</tspan><tspan dx="-1.2">（</tspan><tspan font-size="14.6" dx="1.2">°</tspan><tspan font-size="14.6" dx="-1.4">C</tspan><tspan dx="4.2">）</tspan></text>
</g>
<g>
<clipPath id="cp2"><rect x="798" y="56" width="460" height="338"/></clipPath><g clip-path="url(#cp2)">
<polyline points="811.9,373.7 812.9,374.9 813.9,374.9 814.9,376.1 815.9,376.1 816.9,376.1 817.9,374.9 818.9,374.9 819.9,374.9 820.9,373.7 821.9,373.7 822.9,373.7 824.0,373.7 825.0,373.7 826.0,373.7 827.0,374.9 828.0,374.9 829.0,376.1 830.0,376.1 831.0,376.1 832.0,374.9 833.0,374.9 834.0,373.7 835.0,373.7 836.0,373.7 837.0,373.7 838.0,373.7 839.0,373.7 840.0,373.7 841.1,374.9 842.1,374.9 843.1,374.9 844.1,376.1 845.1,374.9 846.1,374.9 847.1,374.9 848.1,373.7 849.1,373.7 850.1,373.7 851.1,373.7 852.1,373.7 853.1,373.7 854.1,373.7 855.1,374.9 856.1,374.9 857.2,376.1 858.2,376.1 859.2,374.9 860.2,374.9 861.2,374.9 862.2,373.7 863.2,373.7 864.2,373.7 865.2,373.7 866.2,373.7 867.2,373.7 868.2,374.9 869.2,374.9 870.2,374.9 871.2,376.1 872.3,376.1 873.3,374.9 874.3,374.9 875.3,374.9 876.3,373.7 877.3,373.7 878.3,373.7 879.3,373.7 880.3,373.7 881.3,373.7 882.3,374.9 883.3,374.9 884.3,374.9 885.3,376.1 886.3,376.1 887.3,374.9 888.4,374.9 889.4,374.9 890.4,373.7 891.4,373.7 892.4,373.7 893.4,373.7 894.4,373.7 895.4,373.7 896.4,374.9 897.4,374.9 898.4,374.9 899.4,374.9 900.4,374.9 901.4,374.9 902.4,374.9 903.4,373.7 904.5,373.7 905.5,373.7 906.5,373.7 907.5,373.7 908.5,373.7 909.5,373.7 910.5,374.9 911.5,374.9 912.5,374.9 913.5,376.1 914.5,376.1 915.5,374.9 916.5,374.9 917.5,373.7 918.5,373.7 919.5,373.7 920.6,373.7 921.6,373.7 922.6,373.7 923.6,373.7 924.6,374.9 925.6,374.9 926.6,374.9 927.6,376.1 928.6,376.1 929.6,374.9 930.6,374.9 931.6,373.7 932.6,373.7 933.6,373.7 934.6,373.7 935.6,373.7 936.7,373.7 937.7,373.7 938.7,374.9 939.7,374.9 940.7,374.9 941.7,374.9 942.7,374.9 943.7,374.9 944.7,374.9 945.7,373.7 946.7,373.7 947.7,373.7 948.7,372.5 949.7,373.7 950.7,373.7 951.7,373.7 952.8,374.9 953.8,374.9 954.8,374.9 955.8,374.9 956.8,374.9 957.8,374.9 958.8,374.9 959.8,373.7 960.8,373.7 961.8,373.7 962.8,373.7 963.8,373.7 964.8,373.7 965.8,373.7 966.8,374.9 967.8,374.9 968.9,374.9 969.9,376.1 970.9,374.9 971.9,374.9 972.9,374.9 973.9,373.7 974.9,373.7 975.9,373.7 976.9,373.7 977.9,373.7 978.9,373.7 979.9,373.7 980.9,374.9 981.9,374.9 982.9,374.9 983.9,374.9 985.0,374.9 986.0,374.9 987.0,373.7 988.0,373.7 989.0,373.7 990.0,372.5 991.0,372.5 992.0,373.7 993.0,373.7 994.0,373.7 995.0,374.9 996.0,374.9 997.0,374.9 998.0,374.9 999.0,374.9 1000.0,374.9 1001.1,373.7 1002.1,373.7 1003.1,373.7 1004.1,372.5 1005.1,372.5 1006.1,373.7 1007.1,373.7 1008.1,373.7 1009.1,374.9 1010.1,374.9 1011.1,374.9 1012.1,374.9 1013.1,374.9 1014.1,374.9 1015.1,373.7 1016.1,373.7 1017.1,373.7 1018.2,372.5 1019.2,373.7 1020.2,373.7 1021.2,373.7 1022.2,374.9 1023.2,374.9 1024.2,374.9 1025.2,374.9 1026.2,374.9 1027.2,374.9 1028.2,374.9 1029.2,373.7 1030.2,373.7 1031.2,373.7 1032.2,372.5 1033.2,373.7 1034.3,373.7 1035.3,373.7 1036.3,374.9 1037.3,374.9 1038.3,374.9 1039.3,374.9 1040.3,374.9 1041.3,374.9 1042.3,374.9 1043.3,373.7 1044.3,373.7 1045.3,372.5 1046.3,372.5 1047.3,372.5 1048.3,373.7 1049.3,373.7 1050.4,374.9 1051.4,374.9 1052.4,374.9 1053.4,374.9 1054.4,374.9 1055.4,374.9 1056.4,373.7 1057.4,373.7 1058.4,373.7 1059.4,372.5 1060.4,372.5 1061.4,372.5 1062.4,373.7 1063.4,373.7 1064.4,374.9 1065.4,374.9 1066.5,374.9 1067.5,374.9 1068.5,374.9 1069.5,374.9 1070.5,373.7 1071.5,373.7 1072.5,373.7 1073.5,372.5 1074.5,372.5 1075.5,372.5 1076.5,373.7 1077.5,373.7 1078.5,374.9 1079.5,374.9 1080.5,374.9 1081.5,374.9 1082.6,374.9 1083.6,374.9 1084.6,373.7 1085.6,373.7 1086.6,372.5 1087.6,372.5 1088.6,372.5 1089.6,372.5 1090.6,373.7 1091.6,373.7 1092.6,374.9 1093.6,374.9 1094.6,374.9 1095.6,374.9 1096.6,374.9 1097.6,373.7 1098.7,373.7 1099.7,373.7 1100.7,372.5 1101.7,372.5 1102.7,372.5 1103.7,372.5 1104.7,373.7 1105.7,373.7 1106.7,374.9 1107.7,374.9 1108.7,374.9 1109.7,374.9 1110.7,374.9 1111.7,373.7 1112.7,373.7 1113.7,372.5 1114.8,372.5 1115.8,372.5 1116.8,372.5 1117.8,372.5 1118.8,373.7 1119.8,373.7 1120.8,374.9 1121.8,374.9 1122.8,374.9 1123.8,374.9 1124.8,374.9 1125.8,373.7 1126.8,373.7 1127.8,372.5 1128.8,372.5 1129.8,372.5 1130.9,372.5 1131.9,372.5 1132.9,373.7 1133.9,373.7 1134.9,374.9 1135.9,374.9 1136.9,374.9 1137.9,374.9 1138.9,374.9 1139.9,373.7 1140.9,373.7 1141.9,372.5 1142.9,372.5 1143.9,372.5 1144.9,372.5 1145.9,372.5 1147.0,373.7 1148.0,373.7 1149.0,373.7 1150.0,374.9 1151.0,374.9 1152.0,374.9 1153.0,373.7 1154.0,373.7 1155.0,372.5 1156.0,372.5 1157.0,372.5 1158.0,372.5 1159.0,372.5 1160.0,372.5 1161.0,373.7 1162.0,373.7 1163.1,373.7 1164.1,374.9 1165.1,374.9 1166.1,374.9 1167.1,373.7 1168.1,373.7 1169.1,372.5 1170.1,372.5 1171.1,372.5 1172.1,372.5 1173.1,372.5 1174.1,372.5 1175.1,373.7 1176.1,373.7 1177.1,374.9 1178.1,374.9 1179.2,374.9 1180.2,374.9 1181.2,373.7 1182.2,373.7 1183.2,372.5 1184.2,372.5 1185.2,372.5 1186.2,372.5 1187.2,372.5 1188.2,372.5 1189.2,373.7 1190.2,373.7 1191.2,374.9 1192.2,374.9 1193.2,374.9 1194.2,373.7 1195.3,373.7 1196.3,373.7 1197.3,372.5 1198.3,372.5 1199.3,372.5 1200.3,372.5 1201.3,372.5 1202.3,372.5 1203.3,372.5 1204.3,372.5 1205.3,372.5 1206.3,371.3 1207.3,371.3 1208.3,370.1 1209.3,370.1 1210.3,368.9 1211.4,368.9" fill="none" stroke="#000000" stroke-width="3.2" stroke-linejoin="round" stroke-linecap="round" shape-rendering="crispEdges"/>
<polyline points="797.5,376.1 798.5,376.1 799.5,376.1 800.5,376.1 801.5,376.1 802.5,374.9 803.5,374.9 804.5,374.9 805.5,374.9 806.6,374.9 807.6,374.9 808.6,373.7 809.6,373.7 810.6,373.7 811.6,373.7 812.6,373.7 813.6,373.7 814.6,372.5 815.6,372.5 816.6,372.5 817.6,372.5 818.6,372.5 819.6,372.5 820.6,371.3 821.6,370.1 822.7,370.1 823.7,370.1 824.7,370.1 825.7,370.1 826.7,370.1 827.7,370.1 828.7,370.1 829.7,370.1 830.7,368.9 831.7,368.9 832.7,368.9 833.7,368.9 834.7,368.9 835.7,368.9 836.7,368.9 837.8,370.1 838.8,370.1 839.8,370.1 840.8,370.1 841.8,370.1 842.8,370.1 843.8,371.3 844.8,372.5 845.8,372.5 846.8,372.5 847.8,372.5 848.8,372.5 849.8,372.5 850.8,372.5 851.8,372.5 852.8,372.5 853.9,372.5 854.9,372.5 855.9,372.5 856.9,372.5 857.9,371.3 858.9,371.3 859.9,370.1 860.9,370.1 861.9,370.1 862.9,370.1 863.9,370.1 864.9,370.1 865.9,370.1 866.9,370.1 867.9,370.1 868.9,370.1 870.0,370.1 871.0,370.1 872.0,370.1 873.0,370.1 874.0,368.9 875.0,368.9 876.0,368.9 877.0,368.9 878.0,368.9 879.0,368.9 880.0,368.9 881.0,368.9 882.0,368.9 883.0,368.9 884.0,368.9 885.0,368.9 886.1,368.9 887.1,368.9 888.1,368.9 889.1,368.9 890.1,368.9 891.1,368.9 892.1,370.1 893.1,370.1 894.1,370.1 895.1,370.1 896.1,370.1 897.1,371.3 898.1,371.3 899.1,371.3 900.1,371.3 901.1,371.3 902.2,371.3 903.2,371.3 904.2,371.3 905.2,371.3 906.2,371.3 907.2,371.3 908.2,371.3 909.2,371.3 910.2,371.3 911.2,371.3 912.2,371.3 913.2,371.3 914.2,371.3 915.2,371.3 916.2,371.3 917.2,371.3 918.3,371.3 919.3,371.3 920.3,371.3 921.3,371.3 922.3,370.1 923.3,370.1 924.3,370.1 925.3,370.1 926.3,370.1 927.3,370.1 928.3,370.1 929.3,370.1 930.3,370.1 931.3,370.1 932.3,370.1 933.3,370.1 934.4,370.1 935.4,370.1 936.4,370.1 937.4,370.1 938.4,370.1 939.4,370.1 940.4,370.1 941.4,370.1 942.4,370.1 943.4,370.1 944.4,370.1 945.4,370.1 946.4,370.1 947.4,370.1 948.4,370.1 949.4,370.1 950.5,371.3 951.5,371.3 952.5,371.3 953.5,371.3 954.5,371.3 955.5,371.3 956.5,371.3 957.5,371.3 958.5,371.3 959.5,371.3 960.5,370.1 961.5,370.1 962.5,370.1 963.5,370.1 964.5,370.1 965.5,370.1 966.6,370.1 967.6,370.1 968.6,370.1 969.6,370.1 970.6,370.1 971.6,370.1 972.6,370.1 973.6,370.1 974.6,370.1 975.6,370.1 976.6,370.1 977.6,370.1 978.6,370.1 979.6,370.1 980.6,370.1 981.6,370.1 982.7,370.1 983.7,370.1 984.7,370.1 985.7,370.1 986.7,370.1 987.7,370.1 988.7,368.9 989.7,368.9 990.7,368.9 991.7,368.9 992.7,368.9 993.7,368.9 994.7,370.1 995.7,370.1 996.7,370.1 997.7,370.1 998.8,370.1 999.8,370.1 1000.8,370.1 1001.8,371.3 1002.8,371.3 1003.8,371.3 1004.8,371.3 1005.8,371.3 1006.8,371.3 1007.8,371.3 1008.8,371.3 1009.8,371.3 1010.8,371.3 1011.8,371.3 1012.8,371.3 1013.8,370.1 1014.9,370.1 1015.9,370.1 1016.9,370.1 1017.9,370.1 1018.9,370.1 1019.9,370.1 1020.9,370.1 1021.9,370.1 1022.9,370.1 1023.9,370.1 1024.9,370.1 1025.9,370.1 1026.9,370.1 1027.9,370.1 1028.9,370.1 1029.9,370.1 1030.9,370.1 1032.0,370.1 1033.0,368.9 1034.0,368.9 1035.0,368.9 1036.0,368.9 1037.0,368.9 1038.0,368.9 1039.0,367.7 1040.0,367.7 1041.0,367.7 1042.0,367.7 1043.0,367.7 1044.0,367.7 1045.0,367.7 1046.0,368.9 1047.0,368.9 1048.1,368.9 1049.1,368.9 1050.1,370.1 1051.1,370.1 1052.1,370.1 1053.1,370.1 1054.1,370.1 1055.1,370.1 1056.1,370.1 1057.1,370.1 1058.1,370.1 1059.1,370.1 1060.1,370.1 1061.1,370.1 1062.1,370.1 1063.1,370.1 1064.2,370.1 1065.2,370.1 1066.2,370.1 1067.2,370.1 1068.2,370.1 1069.2,370.1 1070.2,370.1 1071.2,370.1 1072.2,368.9 1073.2,368.9 1074.2,368.9 1075.2,368.9 1076.2,368.9 1077.2,368.9 1078.2,368.9 1079.2,368.9 1080.3,368.9 1081.3,367.7 1082.3,367.7 1083.3,367.7 1084.3,367.7 1085.3,367.7 1086.3,366.5 1087.3,366.5 1088.3,366.5 1089.3,366.5 1090.3,365.3 1091.3,365.3 1092.3,365.3 1093.3,365.3 1094.3,365.3 1095.3,366.5 1096.4,366.5 1097.4,367.7 1098.4,367.7 1099.4,368.9 1100.4,368.9 1101.4,368.9 1102.4,368.9 1103.4,368.9 1104.4,368.9 1105.4,368.9 1106.4,368.9 1107.4,368.9 1108.4,368.9 1109.4,368.9 1110.4,368.9 1111.4,368.9 1112.5,368.9 1113.5,368.9 1114.5,368.9 1115.5,367.7 1116.5,367.7 1117.5,367.7 1118.5,367.7 1119.5,366.5 1120.5,366.5 1121.5,366.5 1122.5,366.5 1123.5,366.5 1124.5,365.3 1125.5,365.3 1126.5,365.3 1127.5,365.3 1128.6,365.3 1129.6,365.3 1130.6,365.3 1131.6,365.3 1132.6,365.3 1133.6,365.3 1134.6,365.3 1135.6,365.3 1136.6,365.3 1137.6,365.3 1138.6,364.1 1139.6,364.1 1140.6,364.1 1141.6,364.1 1142.6,364.1 1143.6,364.1 1144.7,364.1 1145.7,364.1 1146.7,364.1 1147.7,364.1 1148.7,364.1 1149.7,364.1 1150.7,364.1 1151.7,364.1 1152.7,364.1 1153.7,364.1 1154.7,364.1 1155.7,364.1 1156.7,364.1 1157.7,364.1 1158.7,364.1 1159.7,364.1 1160.8,364.1 1161.8,364.1 1162.8,364.1 1163.8,364.1 1164.8,364.1 1165.8,364.1 1166.8,362.8 1167.8,362.8 1168.8,362.8 1169.8,361.6 1170.8,360.4 1171.8,359.2 1172.8,359.2 1173.8,359.2 1174.8,359.2 1175.8,359.2 1176.9,359.2 1177.9,358.0 1178.9,358.0 1179.9,358.0 1180.9,358.0 1181.9,358.0 1182.9,358.0 1183.9,356.8 1184.9,356.8 1185.9,356.8 1186.9,355.6 1187.9,354.4 1188.9,353.2 1189.9,353.2 1190.9,353.2 1191.9,353.2 1193.0,353.2 1194.0,353.2 1195.0,351.9 1196.0,351.9 1197.0,351.9 1198.0,351.9 1199.0,351.9 1200.0,350.7 1201.0,350.7 1201.4,350.7" fill="none" stroke="#ff0000" stroke-width="3.5" stroke-linejoin="round" stroke-linecap="round" shape-rendering="crispEdges"/>
<polyline points="797.5,377.4 798.5,377.4 799.5,376.1 800.5,376.1 801.5,376.1 802.5,374.9 803.5,374.9 804.5,373.7 805.5,372.5 806.6,372.5 807.6,371.3 808.6,370.1 809.6,368.9 810.6,368.9 811.6,367.7 812.6,366.5 813.6,366.5 814.6,366.5 815.6,365.3 816.6,365.3 817.6,365.3 818.6,364.1 819.6,364.1 820.6,364.1 821.6,362.8 822.7,362.8 823.7,361.6 824.7,361.6 825.7,360.4 826.7,360.4 827.7,359.2 828.7,359.2 829.7,359.2 830.7,358.0 831.7,358.0 832.7,358.0 833.7,358.0 834.7,358.0 835.7,356.8 836.7,356.8 837.8,355.6 838.8,355.6 839.8,355.6 840.8,354.4 841.8,354.4 842.8,353.2 843.8,353.2 844.8,353.2 845.8,353.2 846.8,353.2 847.8,351.9 848.8,351.9 849.8,351.9 850.8,350.7 851.8,350.7 852.8,350.7 853.9,350.7 854.9,349.5 855.9,349.5 856.9,349.5 857.9,349.5 858.9,348.3 859.9,349.5 860.9,349.5 861.9,348.3 862.9,348.3 863.9,348.3 864.9,347.1 865.9,347.1 866.9,347.1 867.9,347.1 868.9,347.1 870.0,347.1 871.0,347.1 872.0,347.1 873.0,347.1 874.0,347.1 875.0,347.1 876.0,345.9 877.0,345.9 878.0,347.1 879.0,347.1 880.0,347.1 881.0,347.1 882.0,347.1 883.0,345.9 884.0,345.9 885.0,345.9 886.1,347.1 887.1,345.9 888.1,345.9 889.1,345.9 890.1,347.1 891.1,347.1 892.1,345.9 893.1,345.9 894.1,345.9 895.1,345.9 896.1,344.7 897.1,345.9 898.1,345.9 899.1,345.9 900.1,344.7 901.1,344.7 902.2,344.7 903.2,344.7 904.2,343.5 905.2,342.3 906.2,342.3 907.2,342.3 908.2,342.3 909.2,341.1 910.2,341.1 911.2,341.1 912.2,341.1 913.2,341.1 914.2,341.1 915.2,341.1 916.2,341.1 917.2,341.1 918.3,341.1 919.3,341.1 920.3,341.1 921.3,341.1 922.3,341.1 923.3,341.1 924.3,341.1 925.3,341.1 926.3,339.8 927.3,339.8 928.3,339.8 929.3,339.8 930.3,339.8 931.3,339.8 932.3,339.8 933.3,338.6 934.4,338.6 935.4,337.4 936.4,337.4 937.4,337.4 938.4,337.4 939.4,337.4 940.4,337.4 941.4,337.4 942.4,337.4 943.4,337.4 944.4,337.4 945.4,337.4 946.4,337.4 947.4,337.4 948.4,337.4 949.4,337.4 950.5,336.2 951.5,336.2 952.5,336.2 953.5,336.2 954.5,336.2 955.5,336.2 956.5,336.2 957.5,336.2 958.5,336.2 959.5,335.0 960.5,335.0 961.5,335.0 962.5,335.0 963.5,335.0 964.5,335.0 965.5,335.0 966.6,335.0 967.6,335.0 968.6,335.0 969.6,335.0 970.6,335.0 971.6,335.0 972.6,335.0 973.6,335.0 974.6,333.8 975.6,333.8 976.6,333.8 977.6,333.8 978.6,333.8 979.6,333.8 980.6,332.6 981.6,331.4 982.7,331.4 983.7,332.6 984.7,332.6 985.7,332.6 986.7,331.4 987.7,331.4 988.7,331.4 989.7,331.4 990.7,331.4 991.7,331.4 992.7,331.4 993.7,331.4 994.7,331.4 995.7,331.4 996.7,331.4 997.7,331.4 998.8,331.4 999.8,330.2 1000.8,330.2 1001.8,330.2 1002.8,330.2 1003.8,330.2 1004.8,330.2 1005.8,330.2 1006.8,330.2 1007.8,330.2 1008.8,330.2 1009.8,330.2 1010.8,330.2 1011.8,330.2 1012.8,330.2 1013.8,330.2 1014.9,330.2 1015.9,330.2 1016.9,330.2 1017.9,330.2 1018.9,330.2 1019.9,330.2 1020.9,330.2 1021.9,330.2 1022.9,330.2 1023.9,330.2 1024.9,330.2 1025.9,330.2 1026.9,331.4 1027.9,331.4 1028.9,331.4 1029.9,331.4 1030.9,331.4 1032.0,331.4 1033.0,331.4 1034.0,331.4 1035.0,331.4 1036.0,331.4 1037.0,330.2 1038.0,330.2 1039.0,330.2 1040.0,330.2 1041.0,330.2 1042.0,330.2 1043.0,330.2 1044.0,330.2 1045.0,330.2 1046.0,330.2 1047.0,330.2 1048.1,330.2 1049.1,330.2 1050.1,330.2 1051.1,330.2 1052.1,330.2 1053.1,330.2 1054.1,329.0 1055.1,329.0 1056.1,329.0 1057.1,329.0 1058.1,329.0 1059.1,329.0 1060.1,329.0 1061.1,329.0 1062.1,327.8 1063.1,327.8 1064.2,327.8 1065.2,327.8 1066.2,327.8 1067.2,327.8 1068.2,327.8 1069.2,327.8 1070.2,327.8 1071.2,326.5 1072.2,326.5 1073.2,326.5 1074.2,326.5 1075.2,326.5 1076.2,326.5 1077.2,325.3 1078.2,325.3 1079.2,325.3 1080.3,325.3 1081.3,326.5 1082.3,326.5 1083.3,326.5 1084.3,326.5 1085.3,326.5 1086.3,325.3 1087.3,325.3 1088.3,325.3 1089.3,324.1 1090.3,324.1 1091.3,324.1 1092.3,324.1 1093.3,324.1 1094.3,324.1 1095.3,324.1 1096.4,324.1 1097.4,324.1 1098.4,324.1 1099.4,322.9 1100.4,322.9 1101.4,322.9 1102.4,322.9 1103.4,321.7 1104.4,321.7 1105.4,321.7 1106.4,321.7 1107.4,320.5 1108.4,320.5 1109.4,320.5 1110.4,320.5 1111.4,320.5 1112.5,319.3 1113.5,319.3 1114.5,319.3 1115.5,319.3 1116.5,319.3 1117.5,319.3 1118.5,319.3 1119.5,318.1 1120.5,318.1 1121.5,318.1 1122.5,318.1 1123.5,318.1 1124.5,316.9 1125.5,316.9 1126.5,315.6 1127.5,315.6 1128.6,314.4 1129.6,314.4 1130.6,314.4 1131.6,314.4 1132.6,313.2 1133.6,313.2 1134.6,313.2 1135.6,313.2 1136.6,313.2 1137.6,313.2 1138.6,313.2 1139.6,313.2 1140.6,312.0 1141.6,312.0 1142.6,312.0 1143.6,310.8 1144.7,310.8 1145.7,309.6 1146.7,309.6 1147.7,308.4 1148.7,308.4 1149.7,307.2 1150.7,307.2 1151.7,307.2 1152.7,307.2 1153.7,307.2 1154.7,306.0 1155.7,306.0 1156.7,304.8 1157.7,304.8 1158.7,304.8 1159.7,304.8 1160.8,303.5 1161.8,303.5 1162.8,303.5 1163.8,302.3 1164.8,302.3 1165.8,301.1 1166.8,301.1 1167.8,301.1 1168.8,299.9 1169.8,299.9 1170.8,298.7 1171.8,298.7 1172.8,297.5 1173.8,297.5 1174.8,296.3 1175.8,295.1 1176.9,295.1 1177.9,293.9 1178.9,292.7 1179.9,292.7 1180.9,291.4 1181.9,291.4 1182.9,290.2 1183.9,290.2 1184.9,289.0 1185.9,287.8 1186.9,287.8 1187.8,287.8" fill="none" stroke="#0000ff" stroke-width="3" stroke-linejoin="round" stroke-linecap="round" shape-rendering="crispEdges"/>
<polyline points="797.5,373.7 798.5,373.7 799.5,373.7 800.5,374.9 801.5,374.9 802.5,374.9 803.5,374.9 804.5,372.5 805.5,371.3 806.6,370.1 807.6,370.1 808.6,368.9 809.6,367.7 810.6,365.3 811.6,364.1 812.6,362.8 813.6,361.6 814.6,360.4 815.6,359.2 816.6,358.0 817.6,358.0 818.6,356.8 819.6,355.6 820.6,354.4 821.6,353.2 822.7,351.9 823.7,350.7 824.7,349.5 825.7,348.3 826.7,347.1 827.7,345.9 828.7,345.9 829.7,344.7 830.7,343.5 831.7,343.5 832.7,342.3 833.7,341.1 834.7,339.8 835.7,338.6 836.7,337.4 837.8,337.4 838.8,336.2 839.8,336.2 840.8,335.0 841.8,335.0 842.8,333.8 843.8,332.6 844.8,331.4 845.8,330.2 846.8,330.2 847.8,329.0 848.8,329.0 849.8,329.0 850.8,329.0 851.8,327.8 852.8,326.5 853.9,326.5 854.9,325.3 855.9,325.3 856.9,324.1 857.9,324.1 858.9,322.9 859.9,322.9 860.9,321.7 861.9,321.7 862.9,320.5 863.9,320.5 864.9,320.5 865.9,319.3 866.9,319.3 867.9,319.3 868.9,319.3 870.0,318.1 871.0,318.1 872.0,316.9 873.0,315.6 874.0,315.6 875.0,314.4 876.0,314.4 877.0,314.4 878.0,314.4 879.0,313.2 880.0,313.2 881.0,313.2 882.0,313.2 883.0,312.0 884.0,312.0 885.0,312.0 886.1,310.8 887.1,310.8 888.1,310.8 889.1,309.6 890.1,308.4 891.1,308.4 892.1,308.4 893.1,307.2 894.1,307.2 895.1,307.2 896.1,307.2 897.1,307.2 898.1,306.0 899.1,306.0 900.1,306.0 901.1,304.8 902.2,304.8 903.2,304.8 904.2,304.8 905.2,303.5 906.2,303.5 907.2,303.5 908.2,302.3 909.2,302.3 910.2,302.3 911.2,302.3 912.2,301.1 913.2,301.1 914.2,301.1 915.2,301.1 916.2,299.9 917.2,299.9 918.3,299.9 919.3,298.7 920.3,298.7 921.3,298.7 922.3,298.7 923.3,297.5 924.3,297.5 925.3,297.5 926.3,297.5 927.3,297.5 928.3,296.3 929.3,296.3 930.3,296.3 931.3,296.3 932.3,295.1 933.3,295.1 934.4,293.9 935.4,293.9 936.4,292.7 937.4,292.7 938.4,292.7 939.4,292.7 940.4,291.4 941.4,291.4 942.4,290.2 943.4,290.2 944.4,290.2 945.4,290.2 946.4,289.0 947.4,289.0 948.4,289.0 949.4,289.0 950.5,289.0 951.5,287.8 952.5,287.8 953.5,287.8 954.5,287.8 955.5,286.6 956.5,286.6 957.5,286.6 958.5,286.6 959.5,285.4 960.5,285.4 961.5,285.4 962.5,285.4 963.5,284.2 964.5,284.2 965.5,284.2 966.6,284.2 967.6,284.2 968.6,284.2 969.6,283.0 970.6,283.0 971.6,283.0 972.6,283.0 973.6,281.8 974.6,281.8 975.6,281.8 976.6,281.8 977.6,280.6 978.6,280.6 979.6,280.6 980.6,280.6 981.6,279.4 982.7,279.4 983.7,279.4 984.7,278.1 985.7,278.1 986.7,278.1 987.7,278.1 988.7,278.1 989.7,276.9 990.7,276.9 991.7,276.9 992.7,275.7 993.7,275.7 994.7,275.7 995.7,275.7 996.7,275.7 997.7,275.7 998.8,274.5 999.8,274.5 1000.8,274.5 1001.8,274.5 1002.8,274.5 1003.8,273.3 1004.8,274.5 1005.8,273.3 1006.8,273.3 1007.8,273.3 1008.8,273.3 1009.8,273.3 1010.8,273.3 1011.8,272.1 1012.8,272.1 1013.8,272.1 1014.9,272.1 1015.9,270.9 1016.9,270.9 1017.9,270.9 1018.9,270.9 1019.9,270.9 1020.9,269.7 1021.9,269.7 1022.9,269.7 1023.9,269.7 1024.9,268.5 1025.9,269.7 1026.9,268.5 1027.9,268.5 1028.9,268.5 1029.9,268.5 1030.9,268.5 1032.0,267.2 1033.0,267.2 1034.0,267.2 1035.0,267.2 1036.0,266.0 1037.0,266.0 1038.0,266.0 1039.0,266.0 1040.0,266.0 1041.0,266.0 1042.0,266.0 1043.0,266.0 1044.0,264.8 1045.0,264.8 1046.0,263.6 1047.0,263.6 1048.1,263.6 1049.1,263.6 1050.1,262.4 1051.1,262.4 1052.1,261.2 1053.1,261.2 1054.1,261.2 1055.1,260.0 1056.1,260.0 1057.1,260.0 1058.1,260.0 1059.1,258.8 1060.1,258.8 1061.1,258.8 1062.1,258.8 1063.1,258.8 1064.2,257.6 1065.2,257.6 1066.2,257.6 1067.2,257.6 1068.2,257.6 1069.2,257.6 1070.2,256.4 1071.2,256.4 1072.2,256.4 1073.2,256.4 1074.2,256.4 1075.2,256.4 1076.2,255.2 1077.2,255.2 1078.2,255.2 1079.2,255.2 1080.3,255.2 1081.3,255.2 1082.3,255.2 1083.3,255.2 1084.3,253.9 1085.3,253.9 1086.3,253.9 1087.3,253.9 1088.3,253.9 1089.3,252.7 1090.3,252.7 1091.3,252.7 1092.3,252.7 1093.3,251.5 1094.3,251.5 1095.3,251.5 1096.4,251.5 1097.4,251.5 1098.4,251.5 1099.4,251.5 1100.4,250.3 1101.4,250.3 1102.4,249.1 1103.4,249.1 1104.4,249.1 1105.4,247.9 1106.4,247.9 1107.4,247.9 1108.4,246.7 1109.4,246.7 1110.4,246.7 1111.4,246.7 1112.5,245.5 1113.5,245.5 1114.5,245.5 1115.5,245.5 1116.5,245.5 1117.5,244.3 1118.5,244.3 1119.5,244.3 1120.5,244.3 1121.5,243.0 1122.5,243.0 1123.5,243.0 1124.5,243.0 1125.5,241.8 1126.5,241.8 1127.5,241.8 1128.6,240.6 1129.6,239.4 1130.6,239.4 1131.6,239.4 1132.6,238.2 1133.6,238.2 1134.6,237.0 1135.6,238.2 1136.6,237.0 1137.6,237.0 1138.6,235.8 1139.6,235.8 1140.6,234.6 1141.6,234.6 1142.6,234.6 1143.6,233.4 1144.7,233.4 1145.7,233.4 1146.7,232.2 1147.7,232.2 1148.7,230.9 1149.7,229.7 1150.7,229.7 1151.7,228.5 1152.7,228.5 1153.7,227.3 1154.7,227.3 1155.7,226.1 1156.7,226.1 1157.7,224.9 1158.7,223.7 1159.7,223.7 1160.8,222.5 1161.8,221.3 1162.8,221.3 1163.8,220.1 1164.8,220.1 1165.8,218.8 1166.8,218.8 1167.8,217.6 1168.8,217.6 1169.8,215.2 1170.8,215.2 1171.8,214.0 1172.8,214.0 1173.8,214.0 1174.8,212.8 1175.8,211.6 1176.9,210.4 1177.9,209.2 1178.9,208.0 1179.9,206.8 1180.9,206.8 1181.9,205.5 1182.9,205.5 1183.9,204.3 1184.9,204.3 1185.9,204.3 1186.9,204.3 1187.9,203.1 1188.9,203.1 1189.9,203.1 1190.9,201.9 1191.9,201.9 1193.0,200.7 1194.0,199.5 1194.6,199.5" fill="none" stroke="#ff00ff" stroke-width="3" stroke-linejoin="round" stroke-linecap="round" shape-rendering="crispEdges"/>
<polyline points="797.5,373.7 798.5,373.7 799.5,372.5 800.5,372.5 801.5,372.5 802.5,371.3 803.5,370.1 804.5,368.9 805.5,366.5 806.6,365.3 807.6,364.1 808.6,362.8 809.6,361.6 810.6,360.4 811.6,359.2 812.6,356.8 813.6,355.6 814.6,354.4 815.6,353.2 816.6,351.9 817.6,350.7 818.6,348.3 819.6,347.1 820.6,345.9 821.6,343.5 822.7,342.3 823.7,341.1 824.7,339.8 825.7,338.6 826.7,337.4 827.7,336.2 828.7,333.8 829.7,332.6 830.7,331.4 831.7,330.2 832.7,329.0 833.7,327.8 834.7,326.5 835.7,325.3 836.7,322.9 837.8,321.7 838.8,320.5 839.8,319.3 840.8,319.3 841.8,318.1 842.8,318.1 843.8,316.9 844.8,315.6 845.8,314.4 846.8,314.4 847.8,313.2 848.8,312.0 849.8,309.6 850.8,308.4 851.8,307.2 852.8,307.2 853.9,306.0 854.9,304.8 855.9,304.8 856.9,303.5 857.9,302.3 858.9,302.3 859.9,301.1 860.9,299.9 861.9,298.7 862.9,297.5 863.9,295.1 864.9,293.9 865.9,292.7 866.9,291.4 867.9,291.4 868.9,290.2 870.0,290.2 871.0,289.0 872.0,287.8 873.0,287.8 874.0,286.6 875.0,285.4 876.0,284.2 877.0,284.2 878.0,283.0 879.0,283.0 880.0,281.8 881.0,280.6 882.0,280.6 883.0,279.4 884.0,278.1 885.0,278.1 886.1,276.9 887.1,275.7 888.1,275.7 889.1,274.5 890.1,274.5 891.1,273.3 892.1,273.3 893.1,272.1 894.1,272.1 895.1,270.9 896.1,270.9 897.1,269.7 898.1,269.7 899.1,269.7 900.1,268.5 901.1,268.5 902.2,267.2 903.2,266.0 904.2,266.0 905.2,264.8 906.2,264.8 907.2,263.6 908.2,262.4 909.2,261.2 910.2,261.2 911.2,260.0 912.2,260.0 913.2,258.8 914.2,257.6 915.2,257.6 916.2,256.4 917.2,256.4 918.3,255.2 919.3,255.2 920.3,255.2 921.3,253.9 922.3,253.9 923.3,252.7 924.3,252.7 925.3,251.5 926.3,251.5 927.3,250.3 928.3,249.1 929.3,249.1 930.3,247.9 931.3,247.9 932.3,246.7 933.3,245.5 934.4,245.5 935.4,244.3 936.4,244.3 937.4,243.0 938.4,243.0 939.4,241.8 940.4,241.8 941.4,240.6 942.4,240.6 943.4,239.4 944.4,239.4 945.4,239.4 946.4,238.2 947.4,238.2 948.4,237.0 949.4,237.0 950.5,235.8 951.5,235.8 952.5,234.6 953.5,234.6 954.5,233.4 955.5,233.4 956.5,232.2 957.5,230.9 958.5,230.9 959.5,230.9 960.5,229.7 961.5,229.7 962.5,228.5 963.5,228.5 964.5,227.3 965.5,227.3 966.6,226.1 967.6,226.1 968.6,224.9 969.6,224.9 970.6,224.9 971.6,223.7 972.6,223.7 973.6,223.7 974.6,222.5 975.6,222.5 976.6,221.3 977.6,221.3 978.6,220.1 979.6,220.1 980.6,218.8 981.6,218.8 982.7,217.6 983.7,217.6 984.7,216.4 985.7,216.4 986.7,215.2 987.7,215.2 988.7,214.0 989.7,214.0 990.7,212.8 991.7,212.8 992.7,211.6 993.7,211.6 994.7,210.4 995.7,210.4 996.7,210.4 997.7,209.2 998.8,209.2 999.8,208.0 1000.8,208.0 1001.8,206.8 1002.8,206.8 1003.8,205.5 1004.8,205.5 1005.8,205.5 1006.8,204.3 1007.8,204.3 1008.8,203.1 1009.8,204.3 1010.8,203.1 1011.8,203.1 1012.8,203.1 1013.8,201.9 1014.9,201.9 1015.9,201.9 1016.9,200.7 1017.9,200.7 1018.9,199.5 1019.9,199.5 1020.9,199.5 1021.9,198.3 1022.9,198.3 1023.9,198.3 1024.9,197.1 1025.9,197.1 1026.9,197.1 1027.9,195.9 1028.9,194.7 1029.9,193.4 1030.9,193.4 1032.0,192.2 1033.0,192.2 1034.0,191.0 1035.0,191.0 1036.0,189.8 1037.0,189.8 1038.0,188.6 1039.0,188.6 1040.0,187.4 1041.0,186.2 1042.0,186.2 1043.0,185.0 1044.0,185.0 1045.0,183.8 1046.0,182.6 1047.0,182.6 1048.1,181.3 1049.1,181.3 1050.1,180.1 1051.1,180.1 1052.1,178.9 1053.1,177.7 1054.1,177.7 1055.1,176.5 1056.1,175.3 1057.1,175.3 1058.1,175.3 1059.1,174.1 1060.1,174.1 1061.1,174.1 1062.1,172.9 1063.1,172.9 1064.2,172.9 1065.2,171.7 1066.2,171.7 1067.2,170.4 1068.2,169.2 1069.2,169.2 1070.2,168.0 1071.2,166.8 1072.2,165.6 1073.2,164.4 1074.2,164.4 1075.2,163.2 1076.2,163.2 1077.2,163.2 1078.2,162.0 1079.2,162.0 1080.3,162.0 1081.3,162.0 1082.3,160.8 1083.3,159.6 1084.3,158.3 1085.3,157.1 1086.3,154.7 1087.3,153.5 1088.3,152.3 1089.3,151.1 1090.3,151.1 1091.3,149.9 1092.3,149.9 1093.3,148.7 1094.3,148.7 1095.3,147.5 1096.4,146.2 1097.4,146.2 1098.4,145.0 1099.4,143.8 1100.4,142.6 1101.4,142.6 1102.4,141.4 1103.4,140.2 1104.4,137.8 1105.4,135.4 1106.4,135.4 1107.4,134.1 1108.4,134.1 1109.4,132.9 1110.4,132.9 1111.4,132.9 1112.5,131.7 1113.5,130.5 1114.5,130.5 1115.5,129.3 1116.5,129.3 1117.5,128.1 1118.5,126.9 1119.5,125.7 1120.5,125.7 1121.5,124.5 1122.5,123.3 1123.5,122.0 1124.5,122.0 1125.5,120.8 1126.5,119.6 1127.5,118.4 1128.6,117.2 1129.6,117.2 1130.6,116.0 1131.6,114.8 1132.6,114.8 1133.6,113.6 1134.6,113.6 1135.6,112.4 1136.6,111.2 1137.6,108.7 1138.6,107.5 1139.6,106.3 1140.6,105.1 1141.6,102.7 1142.6,101.5 1143.6,100.3 1144.7,99.1 1145.7,96.6 1146.7,95.4 1147.7,94.2 1148.7,93.0 1149.7,91.8 1150.7,90.6 1151.7,89.4 1152.7,88.2 1153.7,87.0 1154.7,85.8 1155.7,84.5 1156.7,83.3 1157.7,82.1 1158.7,82.1 1159.7,80.9 1160.8,79.7 1161.8,78.5 1162.8,77.3 1163.8,76.1 1164.8,74.9 1165.8,73.7 1166.8,72.4 1167.8,71.2 1168.8,70.0 1169.8,70.0 1170.8,68.8 1171.8,67.6 1172.8,65.2 1173.8,64.0 1174.8,62.8 1175.0,61.5" fill="none" stroke="#008000" stroke-width="3" stroke-linejoin="round" stroke-linecap="round" shape-rendering="crispEdges"/>
</g>
<g fill="#000" shape-rendering="crispEdges">
<rect x="797" y="55" width="461" height="1"/>
<rect x="797" y="393" width="461" height="1"/>
<rect x="797" y="55" width="1" height="339"/>
<rect x="1257" y="55" width="1" height="339"/>
<rect x="794" y="387" width="3" height="1"/>
<rect x="790" y="357" width="7" height="1"/>
<rect x="794" y="326" width="3" height="1"/>
<rect x="790" y="296" width="7" height="1"/>
<rect x="794" y="266" width="3" height="1"/>
<rect x="790" y="236" width="7" height="1"/>
<rect x="794" y="206" width="3" height="1"/>
<rect x="790" y="175" width="7" height="1"/>
<rect x="794" y="145" width="3" height="1"/>
<rect x="790" y="115" width="7" height="1"/>
<rect x="794" y="85" width="3" height="1"/>
<rect x="790" y="55" width="7" height="1"/>
<rect x="797" y="394" width="1" height="6"/>
<rect x="826" y="394" width="1" height="3"/>
<rect x="854" y="394" width="1" height="6"/>
<rect x="883" y="394" width="1" height="3"/>
<rect x="912" y="394" width="1" height="6"/>
<rect x="941" y="394" width="1" height="3"/>
<rect x="969" y="394" width="1" height="6"/>
<rect x="998" y="394" width="1" height="3"/>
<rect x="1027" y="394" width="1" height="6"/>
<rect x="1056" y="394" width="1" height="3"/>
<rect x="1085" y="394" width="1" height="6"/>
<rect x="1113" y="394" width="1" height="3"/>
<rect x="1142" y="394" width="1" height="6"/>
<rect x="1171" y="394" width="1" height="3"/>
<rect x="1200" y="394" width="1" height="6"/>
<rect x="1228" y="394" width="1" height="3"/>
<rect x="1257" y="394" width="1" height="6"/>
</g>
<g font-family="'Liberation Sans','Noto Sans CJK SC',sans-serif" font-size="12" fill="#000" letter-spacing="0.3">
<text x="785.05" y="360.2" text-anchor="end">25</text>
<text x="785.05" y="300.2" text-anchor="end">30</text>
<text x="785.05" y="240.2" text-anchor="end">35</text>
<text x="785.05" y="179.2" text-anchor="end">40</text>
<text x="785.05" y="119.2" text-anchor="end">45</text>
<text x="785.05" y="58.2" text-anchor="end">50</text>
<text x="796.8" y="415.0" text-anchor="middle">0</text>
<text x="853.8" y="415.0" text-anchor="middle">20</text>
<text x="911.8" y="415.0" text-anchor="middle">40</text>
<text x="968.8" y="415.0" text-anchor="middle">60</text>
<text x="1026.8" y="415.0" text-anchor="middle">80</text>
<text x="1084.8" y="415.0" text-anchor="middle">100</text>
<text x="1141.8" y="415.0" text-anchor="middle">120</text>
<text x="1199.8" y="415.0" text-anchor="middle">140</text>
<text x="1256.8" y="415.0" text-anchor="middle">160</text>
</g>
<g fill="#000000" shape-rendering="crispEdges"><rect x="822" y="95" width="39" height="3"/><rect x="821" y="96" width="41" height="1"/></g>
<text x="864.4" y="101.8" font-family="'Liberation Sans','Noto Sans CJK SC',sans-serif" font-size="16.3" letter-spacing="0.3" fill="#111">0.33C</text>
<g fill="#ff0000" shape-rendering="crispEdges"><rect x="822" y="116" width="39" height="3"/><rect x="821" y="117" width="41" height="1"/></g>
<text x="864.4" y="122.0" font-family="'Liberation Sans','Noto Sans CJK SC',sans-serif" font-size="16.3" letter-spacing="0.3" fill="#111">1C</text>
<g fill="#0000ff" shape-rendering="crispEdges"><rect x="822" y="136" width="39" height="3"/><rect x="821" y="137" width="41" height="1"/></g>
<text x="864.4" y="142.3" font-family="'Liberation Sans','Noto Sans CJK SC',sans-serif" font-size="16.3" letter-spacing="0.3" fill="#111">3C</text>
<g fill="#ff00ff" shape-rendering="crispEdges"><rect x="822" y="156" width="39" height="3"/><rect x="821" y="157" width="41" height="1"/></g>
<text x="864.4" y="162.6" font-family="'Liberation Sans','Noto Sans CJK SC',sans-serif" font-size="16.3" letter-spacing="0.3" fill="#111">5C</text>
<g fill="#008000" shape-rendering="crispEdges"><rect x="822" y="177" width="39" height="3"/><rect x="821" y="178" width="41" height="1"/></g>
<text x="864.4" y="182.8" font-family="'Liberation Sans','Noto Sans CJK SC',sans-serif" font-size="16.3" letter-spacing="0.3" fill="#111">7C</text>
<text x="938.3" y="45.4" font-size="20.5" fill="#000" stroke="#000" stroke-width="0.15" font-family="'Liberation Sans','Noto Serif CJK SC',serif" letter-spacing="0.25">2.55<tspan font-size="19.5" font-weight="400" fill="#111" stroke="none" letter-spacing="2.0" dx="0.2" dy="0.6">压实倍率温升</tspan></text>
<text x="961.3" y="440.8" font-size="16" fill="#222" font-family="'Liberation Sans','Noto Sans CJK SC',sans-serif"><tspan font-weight="350">克容量（</tspan><tspan dx="1.4" letter-spacing="0.2">mAh/g</tspan><tspan dx="4.6" font-weight="350">）</tspan></text>
<text transform="translate(744.5,270.5) rotate(-90)" font-size="16" fill="#111" font-family="'Liberation Sans','Noto Serif CJK SC',serif"><tspan font-weight="400">温度</tspan><tspan dx="-1.2">（</tspan><tspan font-size="14.6" dx="1.2">°</tspan><tspan font-size="14.6" dx="-1.4">C</tspan><tspan dx="4.2">）</tspan></text>
</g>
<g>
<clipPath id="cp3"><rect x="122" y="517" width="460" height="338"/></clipPath><g clip-path="url(#cp3)">
<polyline points="125.8,838.4 126.8,838.4 127.8,839.6 128.8,839.6 129.8,839.6 130.8,839.6 131.8,838.4 132.9,838.4 133.9,838.4 134.9,837.1 135.9,837.1 136.9,837.1 137.9,837.1 138.9,838.4 139.9,838.4 140.9,839.6 141.9,839.6 142.9,839.6 143.9,839.6 144.9,838.4 145.9,838.4 146.9,838.4 147.9,837.1 149.0,837.1 150.0,837.1 151.0,837.1 152.0,838.4 153.0,838.4 154.0,839.6 155.0,839.6 156.0,839.6 157.0,839.6 158.0,838.4 159.0,838.4 160.0,837.1 161.0,837.1 162.0,837.1 163.0,837.1 164.0,837.1 165.1,838.4 166.1,838.4 167.1,839.6 168.1,839.6 169.1,839.6 170.1,839.6 171.1,838.4 172.1,838.4 173.1,837.1 174.1,837.1 175.1,837.1 176.1,837.1 177.1,837.1 178.1,838.4 179.1,838.4 180.2,839.6 181.2,839.6 182.2,839.6 183.2,839.6 184.2,838.4 185.2,838.4 186.2,837.1 187.2,837.1 188.2,837.1 189.2,837.1 190.2,837.1 191.2,838.4 192.2,838.4 193.2,839.6 194.2,839.6 195.2,839.6 196.3,839.6 197.3,838.4 198.3,838.4 199.3,837.1 200.3,837.1 201.3,837.1 202.3,837.1 203.3,837.1 204.3,838.4 205.3,838.4 206.3,839.6 207.3,839.6 208.3,839.6 209.3,839.6 210.3,838.4 211.3,838.4 212.4,837.1 213.4,837.1 214.4,837.1 215.4,837.1 216.4,837.1 217.4,838.4 218.4,838.4 219.4,839.6 220.4,839.6 221.4,839.6 222.4,839.6 223.4,838.4 224.4,838.4 225.4,837.1 226.4,837.1 227.4,837.1 228.5,837.1 229.5,837.1 230.5,838.4 231.5,838.4 232.5,839.6 233.5,839.6 234.5,839.6 235.5,839.6 236.5,838.4 237.5,838.4 238.5,837.1 239.5,837.1 240.5,837.1 241.5,837.1 242.5,837.1 243.5,838.4 244.6,838.4 245.6,839.6 246.6,839.6 247.6,839.6 248.6,839.6 249.6,838.4 250.6,838.4 251.6,837.1 252.6,837.1 253.6,837.1 254.6,837.1 255.6,837.1 256.6,838.4 257.6,838.4 258.6,839.6 259.6,839.6 260.7,839.6 261.7,839.6 262.7,838.4 263.7,838.4 264.7,837.1 265.7,837.1 266.7,837.1 267.7,837.1 268.7,837.1 269.7,838.4 270.7,838.4 271.7,838.4 272.7,839.6 273.7,839.6 274.7,839.6 275.7,838.4 276.8,838.4 277.8,837.1 278.8,837.1 279.8,837.1 280.8,837.1 281.8,837.1 282.8,838.4 283.8,838.4 284.8,838.4 285.8,839.6 286.8,839.6 287.8,839.6 288.8,838.4 289.8,838.4 290.8,837.1 291.8,837.1 292.9,837.1 293.9,837.1 294.9,837.1 295.9,838.4 296.9,838.4 297.9,838.4 298.9,839.6 299.9,839.6 300.9,839.6 301.9,838.4 302.9,838.4 303.9,837.1 304.9,837.1 305.9,837.1 306.9,837.1 307.9,837.1 309.0,837.1 310.0,838.4 311.0,838.4 312.0,839.6 313.0,839.6 314.0,838.4 315.0,838.4 316.0,838.4 317.0,837.1 318.0,837.1 319.0,837.1 320.0,837.1 321.0,837.1 322.0,837.1 323.0,838.4 324.0,838.4 325.1,838.4 326.1,838.4 327.1,838.4 328.1,838.4 329.1,837.1 330.1,837.1 331.1,837.1 332.1,835.9 333.1,835.9 334.1,837.1 335.1,837.1 336.1,838.4 337.1,838.4 338.1,838.4 339.1,838.4 340.1,838.4 341.1,838.4 342.2,837.1 343.2,837.1 344.2,835.9 345.2,835.9 346.2,835.9 347.2,837.1 348.2,837.1 349.2,837.1 350.2,838.4 351.2,838.4 352.2,838.4 353.2,838.4 354.2,838.4 355.2,837.1 356.2,837.1 357.2,835.9 358.3,835.9 359.3,835.9 360.3,835.9 361.3,837.1 362.3,837.1 363.3,838.4 364.3,838.4 365.3,838.4 366.3,838.4 367.3,838.4 368.3,837.1 369.3,837.1 370.3,835.9 371.3,835.9 372.3,835.9 373.3,835.9 374.4,837.1 375.4,835.9 376.4,834.7 377.4,835.9 378.4,835.9 379.4,837.1 380.4,838.4 381.4,838.4 382.4,838.4 383.4,837.1 384.4,835.9 385.4,834.7 386.4,834.7 387.4,834.7 388.4,834.7 389.4,834.7 390.5,834.7 391.5,835.9 392.5,837.1 393.5,838.4 394.5,839.6 395.5,838.4 396.5,837.1 397.5,835.9 398.5,834.7 399.5,834.7 400.5,834.7 401.5,834.7 402.5,834.7 403.5,834.7 404.5,835.9 405.5,837.1 406.6,838.4 407.6,839.6 408.6,838.4 409.6,837.1 410.6,835.9 411.6,834.7 412.6,834.7 413.6,834.7 414.6,834.7 415.6,834.7 416.6,834.7 417.6,835.9 418.6,837.1 419.6,838.4 420.6,838.4 421.6,838.4 422.7,837.1 423.7,835.9 424.7,834.7 425.7,834.7 426.7,834.7 427.7,834.7 428.7,834.7 429.7,834.7 430.7,835.9 431.7,835.9 432.7,838.4 433.7,838.4 434.7,838.4 435.7,835.9 436.7,835.9 437.7,834.7 438.8,834.7 439.8,834.7 440.8,834.7 441.8,834.7 442.8,834.7 443.8,835.9 444.8,835.9 445.8,838.4 446.8,838.4 447.8,838.4 448.8,835.9 449.8,835.9 450.8,834.7 451.8,834.7 452.8,834.7 453.8,834.7 454.9,834.7 455.9,834.7 456.9,835.9 457.9,835.9 458.9,838.4 459.9,838.4 460.9,838.4 461.9,835.9 462.9,835.9 463.9,834.7 464.9,834.7 465.9,834.7 466.9,834.7 467.9,834.7 468.9,834.7 469.9,834.7 471.0,835.9 472.0,838.4 473.0,838.4 474.0,838.4 475.0,835.9 476.0,834.7 477.0,834.7 478.0,834.7 479.0,834.7 480.0,834.7 481.0,834.7 482.0,834.7 483.0,834.7 484.0,835.9 485.0,838.4 486.0,838.4 487.1,838.4 488.1,835.9 489.1,834.7 490.1,834.7 491.1,834.7 492.1,834.7 493.1,834.7 494.1,834.7 495.1,834.7 496.1,834.7 497.1,835.9 498.1,835.9 499.1,835.9 500.1,835.9 501.1,834.7 502.1,834.7 503.2,834.7 504.2,834.7 505.2,834.7 506.2,834.7 507.2,834.7 508.2,834.7 509.2,834.7 510.2,834.7 511.2,835.9 512.2,835.9 513.2,835.9 514.2,834.7 515.2,834.7 516.2,834.7 517.2,834.7 518.2,834.7 519.3,834.7 520.3,834.7 521.3,834.7 522.3,834.7 523.3,834.7 524.3,835.9 525.3,835.9 526.3,834.7 527.3,833.5 528.3,833.5 529.3,832.3 530.3,832.3 531.3,832.3 532.3,832.3 533.3,833.5 534.3,833.5 535.4,833.5 536.4,833.5 537.4,834.7" fill="none" stroke="#000000" stroke-width="3.2" stroke-linejoin="round" stroke-linecap="round" shape-rendering="crispEdges"/>
<polyline points="121.5,837.1 122.5,837.1 123.5,837.1 124.5,837.1 125.5,837.1 126.5,837.1 127.5,837.1 128.5,837.1 129.6,837.1 130.6,835.9 131.6,835.9 132.6,835.9 133.6,835.9 134.6,835.9 135.6,835.9 136.6,835.9 137.6,835.9 138.6,835.9 139.6,835.9 140.6,835.9 141.6,835.9 142.6,835.9 143.6,835.9 144.6,835.9 145.6,835.9 146.7,835.9 147.7,835.9 148.7,835.9 149.7,835.9 150.7,835.9 151.7,835.9 152.7,835.9 153.7,835.9 154.7,835.9 155.7,835.9 156.7,835.9 157.7,835.9 158.7,835.9 159.7,835.9 160.7,835.9 161.7,835.9 162.8,835.9 163.8,835.9 164.8,834.7 165.8,834.7 166.8,834.7 167.8,835.9 168.8,835.9 169.8,835.9 170.8,834.7 171.8,834.7 172.8,834.7 173.8,834.7 174.8,834.7 175.8,834.7 176.8,834.7 177.9,834.7 178.9,834.7 179.9,833.5 180.9,833.5 181.9,833.5 182.9,833.5 183.9,833.5 184.9,833.5 185.9,832.3 186.9,832.3 187.9,832.3 188.9,832.3 189.9,832.3 190.9,832.3 191.9,833.5 192.9,834.7 194.0,834.7 195.0,834.7 196.0,834.7 197.0,835.9 198.0,835.9 199.0,835.9 200.0,835.9 201.0,835.9 202.0,835.9 203.0,835.9 204.0,835.9 205.0,835.9 206.0,835.9 207.0,835.9 208.0,835.9 209.0,835.9 210.1,835.9 211.1,835.9 212.1,835.9 213.1,834.7 214.1,834.7 215.1,834.7 216.1,834.7 217.1,834.7 218.1,834.7 219.1,834.7 220.1,834.7 221.1,834.7 222.1,834.7 223.1,834.7 224.1,834.7 225.1,834.7 226.2,834.7 227.2,834.7 228.2,834.7 229.2,834.7 230.2,833.5 231.2,833.5 232.2,832.3 233.2,832.3 234.2,832.3 235.2,832.3 236.2,832.3 237.2,832.3 238.2,832.3 239.2,832.3 240.2,832.3 241.2,832.3 242.3,832.3 243.3,832.3 244.3,832.3 245.3,832.3 246.3,833.5 247.3,833.5 248.3,834.7 249.3,834.7 250.3,834.7 251.3,834.7 252.3,834.7 253.3,834.7 254.3,834.7 255.3,834.7 256.3,834.7 257.3,834.7 258.4,834.7 259.4,834.7 260.4,834.7 261.4,834.7 262.4,834.7 263.4,834.7 264.4,834.7 265.4,834.7 266.4,834.7 267.4,834.7 268.4,834.7 269.4,834.7 270.4,834.7 271.4,834.7 272.4,834.7 273.4,834.7 274.5,834.7 275.5,834.7 276.5,834.7 277.5,834.7 278.5,833.5 279.5,832.3 280.5,832.3 281.5,832.3 282.5,832.3 283.5,832.3 284.5,832.3 285.5,832.3 286.5,832.3 287.5,832.3 288.5,832.3 289.5,832.3 290.6,832.3 291.6,832.3 292.6,832.3 293.6,832.3 294.6,832.3 295.6,832.3 296.6,832.3 297.6,833.5 298.6,833.5 299.6,833.5 300.6,834.7 301.6,834.7 302.6,834.7 303.6,835.9 304.6,835.9 305.6,835.9 306.7,835.9 307.7,835.9 308.7,835.9 309.7,835.9 310.7,834.7 311.7,834.7 312.7,834.7 313.7,834.7 314.7,834.7 315.7,834.7 316.7,834.7 317.7,834.7 318.7,834.7 319.7,834.7 320.7,834.7 321.7,834.7 322.8,834.7 323.8,835.9 324.8,835.9 325.8,834.7 326.8,834.7 327.8,834.7 328.8,834.7 329.8,833.5 330.8,833.5 331.8,833.5 332.8,833.5 333.8,833.5 334.8,833.5 335.8,833.5 336.8,833.5 337.8,833.5 338.9,833.5 339.9,833.5 340.9,833.5 341.9,833.5 342.9,833.5 343.9,833.5 344.9,833.5 345.9,833.5 346.9,833.5 347.9,833.5 348.9,833.5 349.9,834.7 350.9,834.7 351.9,834.7 352.9,834.7 353.9,834.7 354.9,834.7 356.0,834.7 357.0,834.7 358.0,834.7 359.0,834.7 360.0,834.7 361.0,834.7 362.0,834.7 363.0,834.7 364.0,834.7 365.0,834.7 366.0,834.7 367.0,834.7 368.0,834.7 369.0,834.7 370.0,833.5 371.0,833.5 372.1,833.5 373.1,833.5 374.1,833.5 375.1,833.5 376.1,833.5 377.1,833.5 378.1,832.3 379.1,832.3 380.1,832.3 381.1,832.3 382.1,832.3 383.1,832.3 384.1,832.3 385.1,832.3 386.1,832.3 387.1,832.3 388.2,832.3 389.2,831.1 390.2,831.1 391.2,829.9 392.2,829.9 393.2,829.9 394.2,829.9 395.2,829.9 396.2,829.9 397.2,829.9 398.2,831.1 399.2,831.1 400.2,832.3 401.2,832.3 402.2,833.5 403.2,833.5 404.3,834.7 405.3,834.7 406.3,834.7 407.3,834.7 408.3,834.7 409.3,834.7 410.3,834.7 411.3,834.7 412.3,834.7 413.3,833.5 414.3,832.3 415.3,832.3 416.3,832.3 417.3,831.1 418.3,831.1 419.3,831.1 420.4,831.1 421.4,831.1 422.4,831.1 423.4,831.1 424.4,831.1 425.4,831.1 426.4,831.1 427.4,831.1 428.4,831.1 429.4,829.9 430.4,829.9 431.4,829.9 432.4,829.9 433.4,829.9 434.4,829.9 435.4,829.9 436.5,829.9 437.5,829.9 438.5,829.9 439.5,828.7 440.5,828.7 441.5,828.7 442.5,829.9 443.5,829.9 444.5,829.9 445.5,829.9 446.5,829.9 447.5,829.9 448.5,829.9 449.5,829.9 450.5,829.9 451.5,829.9 452.6,829.9 453.6,829.9 454.6,829.9 455.6,829.9 456.6,829.9 457.6,829.9 458.6,829.9 459.6,829.9 460.6,829.9 461.6,829.9 462.6,829.9 463.6,829.9 464.6,829.9 465.6,829.9 466.6,829.9 467.6,829.9 468.7,829.9 469.7,829.9 470.7,828.7 471.7,828.7 472.7,828.7 473.7,828.7 474.7,827.5 475.7,827.5 476.7,827.5 477.7,827.5 478.7,827.5 479.7,827.5 480.7,826.3 481.7,826.3 482.7,826.3 483.7,826.3 484.8,826.3 485.8,825.0 486.8,825.0 487.8,825.0 488.8,825.0 489.8,825.0 490.8,825.0 491.8,825.0 492.8,825.0 493.8,825.0 494.8,825.0 495.8,823.8 496.8,823.8 497.8,823.8 498.8,823.8 499.8,823.8 500.9,823.8 501.9,823.8 502.9,823.8 503.9,823.8 504.9,823.8 505.9,822.6 506.9,822.6 507.9,822.6 508.9,822.6 509.9,821.4 510.9,821.4 511.9,821.4 512.9,821.4 513.9,820.2 514.9,820.2 515.9,820.2 517.0,819.0 518.0,819.0 519.0,817.8 520.0,817.8 521.0,817.8 522.0,816.6 523.0,816.6 524.0,815.4 525.0,815.4 526.0,814.2 527.0,814.2 527.1,814.2" fill="none" stroke="#ff0000" stroke-width="3.3" stroke-linejoin="round" stroke-linecap="round" shape-rendering="crispEdges"/>
<polyline points="121.5,839.6 122.5,839.6 123.5,839.6 124.5,838.4 125.5,838.4 126.5,838.4 127.5,838.4 128.5,838.4 129.6,837.1 130.6,837.1 131.6,837.1 132.6,835.9 133.6,835.9 134.6,835.9 135.6,835.9 136.6,835.9 137.6,834.7 138.6,834.7 139.6,834.7 140.6,834.7 141.6,834.7 142.6,834.7 143.6,834.7 144.6,834.7 145.6,833.5 146.7,833.5 147.7,833.5 148.7,832.3 149.7,832.3 150.7,832.3 151.7,831.1 152.7,831.1 153.7,829.9 154.7,829.9 155.7,829.9 156.7,829.9 157.7,829.9 158.7,829.9 159.7,829.9 160.7,828.7 161.7,828.7 162.8,828.7 163.8,828.7 164.8,828.7 165.8,827.5 166.8,827.5 167.8,827.5 168.8,827.5 169.8,826.3 170.8,826.3 171.8,826.3 172.8,826.3 173.8,826.3 174.8,826.3 175.8,825.0 176.8,825.0 177.9,825.0 178.9,825.0 179.9,825.0 180.9,825.0 181.9,825.0 182.9,825.0 183.9,825.0 184.9,823.8 185.9,823.8 186.9,823.8 187.9,822.6 188.9,822.6 189.9,822.6 190.9,822.6 191.9,821.4 192.9,821.4 194.0,821.4 195.0,821.4 196.0,821.4 197.0,821.4 198.0,821.4 199.0,821.4 200.0,821.4 201.0,821.4 202.0,820.2 203.0,820.2 204.0,820.2 205.0,820.2 206.0,820.2 207.0,820.2 208.0,820.2 209.0,820.2 210.1,820.2 211.1,820.2 212.1,820.2 213.1,820.2 214.1,820.2 215.1,819.0 216.1,819.0 217.1,819.0 218.1,819.0 219.1,819.0 220.1,817.8 221.1,817.8 222.1,817.8 223.1,817.8 224.1,817.8 225.1,817.8 226.2,817.8 227.2,817.8 228.2,817.8 229.2,817.8 230.2,816.6 231.2,816.6 232.2,816.6 233.2,816.6 234.2,816.6 235.2,816.6 236.2,816.6 237.2,816.6 238.2,815.4 239.2,815.4 240.2,815.4 241.2,815.4 242.3,815.4 243.3,815.4 244.3,815.4 245.3,815.4 246.3,815.4 247.3,815.4 248.3,815.4 249.3,815.4 250.3,814.2 251.3,814.2 252.3,814.2 253.3,813.0 254.3,813.0 255.3,813.0 256.3,813.0 257.3,813.0 258.4,813.0 259.4,813.0 260.4,813.0 261.4,813.0 262.4,813.0 263.4,813.0 264.4,813.0 265.4,813.0 266.4,813.0 267.4,813.0 268.4,813.0 269.4,813.0 270.4,813.0 271.4,813.0 272.4,813.0 273.4,813.0 274.5,813.0 275.5,813.0 276.5,813.0 277.5,813.0 278.5,813.0 279.5,813.0 280.5,813.0 281.5,813.0 282.5,813.0 283.5,813.0 284.5,813.0 285.5,813.0 286.5,813.0 287.5,813.0 288.5,813.0 289.5,813.0 290.6,813.0 291.6,813.0 292.6,813.0 293.6,813.0 294.6,813.0 295.6,813.0 296.6,811.7 297.6,811.7 298.6,811.7 299.6,811.7 300.6,811.7 301.6,810.5 302.6,810.5 303.6,810.5 304.6,810.5 305.6,810.5 306.7,810.5 307.7,810.5 308.7,810.5 309.7,810.5 310.7,810.5 311.7,809.3 312.7,809.3 313.7,809.3 314.7,809.3 315.7,809.3 316.7,809.3 317.7,809.3 318.7,809.3 319.7,809.3 320.7,809.3 321.7,809.3 322.8,809.3 323.8,809.3 324.8,809.3 325.8,808.1 326.8,808.1 327.8,808.1 328.8,808.1 329.8,808.1 330.8,808.1 331.8,806.9 332.8,808.1 333.8,808.1 334.8,808.1 335.8,808.1 336.8,806.9 337.8,806.9 338.9,806.9 339.9,806.9 340.9,806.9 341.9,805.7 342.9,805.7 343.9,805.7 344.9,805.7 345.9,805.7 346.9,805.7 347.9,805.7 348.9,804.5 349.9,804.5 350.9,804.5 351.9,804.5 352.9,804.5 353.9,804.5 354.9,804.5 356.0,804.5 357.0,804.5 358.0,803.3 359.0,803.3 360.0,803.3 361.0,803.3 362.0,803.3 363.0,803.3 364.0,803.3 365.0,803.3 366.0,803.3 367.0,803.3 368.0,803.3 369.0,803.3 370.0,802.1 371.0,802.1 372.1,802.1 373.1,802.1 374.1,802.1 375.1,802.1 376.1,800.8 377.1,800.8 378.1,800.8 379.1,800.8 380.1,800.8 381.1,799.6 382.1,799.6 383.1,799.6 384.1,799.6 385.1,799.6 386.1,799.6 387.1,799.6 388.2,799.6 389.2,798.4 390.2,798.4 391.2,798.4 392.2,798.4 393.2,798.4 394.2,798.4 395.2,798.4 396.2,797.2 397.2,797.2 398.2,797.2 399.2,797.2 400.2,797.2 401.2,797.2 402.2,797.2 403.2,797.2 404.3,797.2 405.3,797.2 406.3,797.2 407.3,797.2 408.3,797.2 409.3,797.2 410.3,797.2 411.3,797.2 412.3,797.2 413.3,797.2 414.3,797.2 415.3,797.2 416.3,797.2 417.3,797.2 418.3,797.2 419.3,797.2 420.4,797.2 421.4,797.2 422.4,797.2 423.4,797.2 424.4,797.2 425.4,797.2 426.4,797.2 427.4,797.2 428.4,797.2 429.4,797.2 430.4,797.2 431.4,797.2 432.4,797.2 433.4,797.2 434.4,796.0 435.4,796.0 436.5,794.8 437.5,794.8 438.5,793.6 439.5,793.6 440.5,793.6 441.5,793.6 442.5,793.6 443.5,793.6 444.5,792.4 445.5,792.4 446.5,792.4 447.5,792.4 448.5,792.4 449.5,791.2 450.5,791.2 451.5,791.2 452.6,791.2 453.6,791.2 454.6,791.2 455.6,791.2 456.6,791.2 457.6,791.2 458.6,790.0 459.6,790.0 460.6,790.0 461.6,790.0 462.6,788.8 463.6,788.8 464.6,787.5 465.6,787.5 466.6,787.5 467.6,786.3 468.7,786.3 469.7,786.3 470.7,786.3 471.7,785.1 472.7,785.1 473.7,785.1 474.7,783.9 475.7,783.9 476.7,783.9 477.7,782.7 478.7,782.7 479.7,782.7 480.7,782.7 481.7,781.5 482.7,781.5 483.7,781.5 484.8,781.5 485.8,780.3 486.8,780.3 487.8,779.1 488.8,779.1 489.8,777.9 490.8,777.9 491.8,776.6 492.8,776.6 493.8,775.4 494.8,775.4 495.8,774.2 496.8,774.2 497.8,773.0 498.8,771.8 499.8,771.8 500.9,770.6 501.9,769.4 502.9,768.2 503.9,768.2 504.9,767.0 505.9,767.0 506.9,765.8 507.9,765.8 508.9,765.8 509.9,764.5 510.9,764.5 511.9,763.3 512.3,763.3" fill="none" stroke="#0000ff" stroke-width="3" stroke-linejoin="round" stroke-linecap="round" shape-rendering="crispEdges"/>
<polyline points="121.5,838.4 122.5,838.4 123.5,837.1 124.5,837.1 125.5,837.1 126.5,837.1 127.5,837.1 128.5,837.1 129.6,837.1 130.6,835.9 131.6,835.9 132.6,835.9 133.6,835.9 134.6,835.9 135.6,834.7 136.6,834.7 137.6,833.5 138.6,833.5 139.6,832.3 140.6,832.3 141.6,831.1 142.6,831.1 143.6,831.1 144.6,829.9 145.6,829.9 146.7,828.7 147.7,828.7 148.7,827.5 149.7,827.5 150.7,826.3 151.7,826.3 152.7,826.3 153.7,825.0 154.7,825.0 155.7,823.8 156.7,823.8 157.7,822.6 158.7,822.6 159.7,821.4 160.7,821.4 161.7,821.4 162.8,820.2 163.8,820.2 164.8,820.2 165.8,819.0 166.8,819.0 167.8,817.8 168.8,817.8 169.8,816.6 170.8,816.6 171.8,816.6 172.8,816.6 173.8,815.4 174.8,815.4 175.8,815.4 176.8,814.2 177.9,814.2 178.9,814.2 179.9,813.0 180.9,813.0 181.9,811.7 182.9,811.7 183.9,811.7 184.9,810.5 185.9,810.5 186.9,810.5 187.9,809.3 188.9,809.3 189.9,809.3 190.9,808.1 191.9,808.1 192.9,808.1 194.0,808.1 195.0,808.1 196.0,808.1 197.0,806.9 198.0,806.9 199.0,806.9 200.0,806.9 201.0,805.7 202.0,805.7 203.0,805.7 204.0,804.5 205.0,804.5 206.0,804.5 207.0,803.3 208.0,803.3 209.0,803.3 210.1,803.3 211.1,802.1 212.1,800.8 213.1,800.8 214.1,802.1 215.1,802.1 216.1,800.8 217.1,800.8 218.1,800.8 219.1,799.6 220.1,799.6 221.1,799.6 222.1,798.4 223.1,798.4 224.1,798.4 225.1,798.4 226.2,798.4 227.2,797.2 228.2,797.2 229.2,797.2 230.2,797.2 231.2,797.2 232.2,797.2 233.2,796.0 234.2,796.0 235.2,796.0 236.2,796.0 237.2,794.8 238.2,794.8 239.2,794.8 240.2,794.8 241.2,794.8 242.3,793.6 243.3,793.6 244.3,793.6 245.3,793.6 246.3,793.6 247.3,793.6 248.3,792.4 249.3,792.4 250.3,792.4 251.3,791.2 252.3,791.2 253.3,791.2 254.3,791.2 255.3,791.2 256.3,791.2 257.3,791.2 258.4,790.0 259.4,790.0 260.4,790.0 261.4,790.0 262.4,790.0 263.4,790.0 264.4,790.0 265.4,790.0 266.4,788.8 267.4,788.8 268.4,788.8 269.4,788.8 270.4,788.8 271.4,788.8 272.4,788.8 273.4,787.5 274.5,787.5 275.5,787.5 276.5,787.5 277.5,787.5 278.5,786.3 279.5,785.1 280.5,783.9 281.5,783.9 282.5,783.9 283.5,782.7 284.5,782.7 285.5,782.7 286.5,782.7 287.5,782.7 288.5,782.7 289.5,782.7 290.6,782.7 291.6,782.7 292.6,782.7 293.6,782.7 294.6,782.7 295.6,782.7 296.6,782.7 297.6,782.7 298.6,782.7 299.6,781.5 300.6,781.5 301.6,781.5 302.6,781.5 303.6,781.5 304.6,781.5 305.6,781.5 306.7,781.5 307.7,781.5 308.7,781.5 309.7,781.5 310.7,781.5 311.7,781.5 312.7,781.5 313.7,780.3 314.7,780.3 315.7,780.3 316.7,780.3 317.7,780.3 318.7,780.3 319.7,780.3 320.7,780.3 321.7,780.3 322.8,780.3 323.8,780.3 324.8,780.3 325.8,780.3 326.8,780.3 327.8,779.1 328.8,777.9 329.8,776.6 330.8,776.6 331.8,776.6 332.8,776.6 333.8,776.6 334.8,776.6 335.8,776.6 336.8,776.6 337.8,776.6 338.9,776.6 339.9,776.6 340.9,776.6 341.9,776.6 342.9,776.6 343.9,776.6 344.9,776.6 345.9,775.4 346.9,775.4 347.9,775.4 348.9,775.4 349.9,775.4 350.9,775.4 351.9,775.4 352.9,775.4 353.9,775.4 354.9,775.4 356.0,775.4 357.0,775.4 358.0,775.4 359.0,774.2 360.0,775.4 361.0,774.2 362.0,774.2 363.0,774.2 364.0,774.2 365.0,774.2 366.0,773.0 367.0,773.0 368.0,773.0 369.0,771.8 370.0,771.8 371.0,771.8 372.1,770.6 373.1,770.6 374.1,770.6 375.1,770.6 376.1,770.6 377.1,769.4 378.1,769.4 379.1,769.4 380.1,768.2 381.1,768.2 382.1,768.2 383.1,768.2 384.1,768.2 385.1,768.2 386.1,768.2 387.1,768.2 388.2,768.2 389.2,767.0 390.2,767.0 391.2,767.0 392.2,767.0 393.2,765.8 394.2,765.8 395.2,765.8 396.2,765.8 397.2,765.8 398.2,764.5 399.2,765.8 400.2,764.5 401.2,764.5 402.2,764.5 403.2,764.5 404.3,764.5 405.3,763.3 406.3,763.3 407.3,763.3 408.3,763.3 409.3,763.3 410.3,763.3 411.3,762.1 412.3,762.1 413.3,762.1 414.3,760.9 415.3,760.9 416.3,760.9 417.3,759.7 418.3,759.7 419.3,759.7 420.4,759.7 421.4,759.7 422.4,759.7 423.4,759.7 424.4,759.7 425.4,759.7 426.4,759.7 427.4,758.5 428.4,758.5 429.4,758.5 430.4,758.5 431.4,758.5 432.4,757.3 433.4,757.3 434.4,756.1 435.4,756.1 436.5,756.1 437.5,756.1 438.5,754.9 439.5,754.9 440.5,754.9 441.5,754.9 442.5,753.7 443.5,753.7 444.5,753.7 445.5,752.5 446.5,752.5 447.5,752.5 448.5,751.2 449.5,751.2 450.5,751.2 451.5,751.2 452.6,751.2 453.6,750.0 454.6,750.0 455.6,750.0 456.6,748.8 457.6,748.8 458.6,748.8 459.6,748.8 460.6,747.6 461.6,747.6 462.6,747.6 463.6,747.6 464.6,746.4 465.6,746.4 466.6,745.2 467.6,745.2 468.7,745.2 469.7,745.2 470.7,745.2 471.7,744.0 472.7,744.0 473.7,744.0 474.7,742.8 475.7,742.8 476.7,742.8 477.7,741.6 478.7,741.6 479.7,740.4 480.7,740.4 481.7,740.4 482.7,739.1 483.7,739.1 484.8,737.9 485.8,737.9 486.8,737.9 487.8,736.7 488.8,736.7 489.8,736.7 490.8,736.7 491.8,736.7 492.8,735.5 493.8,735.5 494.8,735.5 495.8,735.5 496.8,735.5 497.8,735.5 498.8,734.3 499.8,734.3 500.9,734.3 501.9,733.1 502.9,733.1 503.9,731.9 504.9,731.9 505.9,730.7 506.9,730.7 507.9,729.5 508.9,729.5 509.9,728.2 510.9,728.2 511.9,727.0 512.9,725.8 513.9,725.8 514.9,724.6 515.9,724.6 517.0,723.4 517.7,723.4" fill="none" stroke="#ff00ff" stroke-width="3" stroke-linejoin="round" stroke-linecap="round" shape-rendering="crispEdges"/>
<polyline points="121.5,839.6 122.5,839.6 123.5,838.4 124.5,838.4 125.5,837.1 126.5,837.1 127.5,837.1 128.5,837.1 129.6,835.9 130.6,835.9 131.6,835.9 132.6,834.7 133.6,833.5 134.6,833.5 135.6,832.3 136.6,832.3 137.6,831.1 138.6,829.9 139.6,829.9 140.6,828.7 141.6,828.7 142.6,827.5 143.6,827.5 144.6,826.3 145.6,825.0 146.7,825.0 147.7,823.8 148.7,822.6 149.7,822.6 150.7,821.4 151.7,820.2 152.7,820.2 153.7,820.2 154.7,820.2 155.7,820.2 156.7,819.0 157.7,819.0 158.7,817.8 159.7,816.6 160.7,816.6 161.7,815.4 162.8,815.4 163.8,814.2 164.8,814.2 165.8,813.0 166.8,813.0 167.8,811.7 168.8,811.7 169.8,810.5 170.8,810.5 171.8,810.5 172.8,809.3 173.8,809.3 174.8,809.3 175.8,809.3 176.8,808.1 177.9,806.9 178.9,806.9 179.9,805.7 180.9,805.7 181.9,804.5 182.9,804.5 183.9,803.3 184.9,802.1 185.9,802.1 186.9,800.8 187.9,800.8 188.9,799.6 189.9,799.6 190.9,799.6 191.9,798.4 192.9,798.4 194.0,797.2 195.0,797.2 196.0,797.2 197.0,796.0 198.0,794.8 199.0,794.8 200.0,793.6 201.0,793.6 202.0,792.4 203.0,792.4 204.0,791.2 205.0,791.2 206.0,791.2 207.0,791.2 208.0,790.0 209.0,790.0 210.1,790.0 211.1,788.8 212.1,788.8 213.1,788.8 214.1,787.5 215.1,787.5 216.1,786.3 217.1,785.1 218.1,783.9 219.1,782.7 220.1,782.7 221.1,781.5 222.1,781.5 223.1,781.5 224.1,781.5 225.1,781.5 226.2,781.5 227.2,781.5 228.2,781.5 229.2,781.5 230.2,780.3 231.2,780.3 232.2,780.3 233.2,779.1 234.2,779.1 235.2,777.9 236.2,776.6 237.2,776.6 238.2,775.4 239.2,775.4 240.2,775.4 241.2,774.2 242.3,774.2 243.3,773.0 244.3,773.0 245.3,773.0 246.3,771.8 247.3,771.8 248.3,770.6 249.3,770.6 250.3,770.6 251.3,769.4 252.3,769.4 253.3,769.4 254.3,768.2 255.3,768.2 256.3,767.0 257.3,767.0 258.4,767.0 259.4,765.8 260.4,765.8 261.4,765.8 262.4,764.5 263.4,764.5 264.4,764.5 265.4,763.3 266.4,763.3 267.4,763.3 268.4,762.1 269.4,762.1 270.4,762.1 271.4,760.9 272.4,760.9 273.4,759.7 274.5,759.7 275.5,759.7 276.5,759.7 277.5,758.5 278.5,758.5 279.5,758.5 280.5,758.5 281.5,758.5 282.5,757.3 283.5,757.3 284.5,757.3 285.5,756.1 286.5,756.1 287.5,754.9 288.5,754.9 289.5,754.9 290.6,754.9 291.6,753.7 292.6,753.7 293.6,752.5 294.6,752.5 295.6,752.5 296.6,751.2 297.6,751.2 298.6,751.2 299.6,751.2 300.6,751.2 301.6,750.0 302.6,750.0 303.6,750.0 304.6,748.8 305.6,748.8 306.7,747.6 307.7,747.6 308.7,747.6 309.7,746.4 310.7,746.4 311.7,746.4 312.7,745.2 313.7,745.2 314.7,745.2 315.7,744.0 316.7,742.8 317.7,742.8 318.7,742.8 319.7,741.6 320.7,741.6 321.7,741.6 322.8,740.4 323.8,740.4 324.8,740.4 325.8,740.4 326.8,739.1 327.8,739.1 328.8,739.1 329.8,737.9 330.8,737.9 331.8,736.7 332.8,736.7 333.8,736.7 334.8,735.5 335.8,735.5 336.8,735.5 337.8,735.5 338.9,735.5 339.9,735.5 340.9,734.3 341.9,734.3 342.9,734.3 343.9,734.3 344.9,734.3 345.9,734.3 346.9,733.1 347.9,733.1 348.9,733.1 349.9,733.1 350.9,731.9 351.9,731.9 352.9,731.9 353.9,731.9 354.9,731.9 356.0,731.9 357.0,730.7 358.0,730.7 359.0,730.7 360.0,730.7 361.0,729.5 362.0,729.5 363.0,729.5 364.0,729.5 365.0,728.2 366.0,727.0 367.0,727.0 368.0,725.8 369.0,724.6 370.0,724.6 371.0,723.4 372.1,723.4 373.1,723.4 374.1,722.2 375.1,722.2 376.1,722.2 377.1,721.0 378.1,721.0 379.1,721.0 380.1,721.0 381.1,719.8 382.1,719.8 383.1,719.8 384.1,718.6 385.1,718.6 386.1,718.6 387.1,717.4 388.2,717.4 389.2,716.1 390.2,716.1 391.2,714.9 392.2,713.7 393.2,713.7 394.2,712.5 395.2,712.5 396.2,711.3 397.2,711.3 398.2,710.1 399.2,710.1 400.2,710.1 401.2,710.1 402.2,708.9 403.2,708.9 404.3,707.7 405.3,707.7 406.3,706.5 407.3,706.5 408.3,706.5 409.3,705.3 410.3,705.3 411.3,704.0 412.3,704.0 413.3,704.0 414.3,704.0 415.3,702.8 416.3,702.8 417.3,701.6 418.3,701.6 419.3,701.6 420.4,700.4 421.4,699.2 422.4,699.2 423.4,698.0 424.4,698.0 425.4,696.8 426.4,695.6 427.4,695.6 428.4,694.4 429.4,694.4 430.4,693.2 431.4,693.2 432.4,692.0 433.4,690.7 434.4,689.5 435.4,689.5 436.5,688.3 437.5,688.3 438.5,687.1 439.5,687.1 440.5,685.9 441.5,685.9 442.5,684.7 443.5,684.7 444.5,683.5 445.5,682.3 446.5,682.3 447.5,681.1 448.5,681.1 449.5,679.9 450.5,678.6 451.5,678.6 452.6,677.4 453.6,676.2 454.6,675.0 455.6,673.8 456.6,672.6 457.6,671.4 458.6,670.2 459.6,669.0 460.6,669.0 461.6,667.8 462.6,667.8 463.6,666.5 464.6,665.3 465.6,665.3 466.6,664.1 467.6,664.1 468.7,662.9 469.7,662.9 470.7,661.7 471.7,661.7 472.7,660.5 473.7,660.5 474.7,659.3 475.7,659.3 476.7,658.1 477.7,658.1 478.7,656.9 479.7,656.9 480.7,655.6 481.7,655.6 482.7,654.4 483.7,654.4 484.8,653.2 485.8,652.0 486.8,650.8 487.8,648.4 488.8,646.0 489.8,643.5 490.8,641.1 491.8,638.7 492.8,638.7 493.8,637.5 494.8,637.5 495.8,636.3 496.8,635.1 497.8,632.7 498.7,631.5" fill="none" stroke="#008000" stroke-width="3" stroke-linejoin="round" stroke-linecap="round" shape-rendering="crispEdges"/>
</g>
<g fill="#000" shape-rendering="crispEdges">
<rect x="121" y="516" width="461" height="1"/>
<rect x="121" y="854" width="461" height="1"/>
<rect x="121" y="516" width="1" height="339"/>
<rect x="581" y="516" width="1" height="339"/>
<rect x="118" y="848" width="3" height="1"/>
<rect x="114" y="818" width="7" height="1"/>
<rect x="118" y="788" width="3" height="1"/>
<rect x="114" y="758" width="7" height="1"/>
<rect x="118" y="727" width="3" height="1"/>
<rect x="114" y="697" width="7" height="1"/>
<rect x="118" y="667" width="3" height="1"/>
<rect x="114" y="637" width="7" height="1"/>
<rect x="118" y="607" width="3" height="1"/>
<rect x="114" y="576" width="7" height="1"/>
<rect x="118" y="546" width="3" height="1"/>
<rect x="114" y="516" width="7" height="1"/>
<rect x="121" y="855" width="1" height="6"/>
<rect x="150" y="855" width="1" height="3"/>
<rect x="178" y="855" width="1" height="6"/>
<rect x="207" y="855" width="1" height="3"/>
<rect x="236" y="855" width="1" height="6"/>
<rect x="265" y="855" width="1" height="3"/>
<rect x="293" y="855" width="1" height="6"/>
<rect x="322" y="855" width="1" height="3"/>
<rect x="351" y="855" width="1" height="6"/>
<rect x="380" y="855" width="1" height="3"/>
<rect x="409" y="855" width="1" height="6"/>
<rect x="437" y="855" width="1" height="3"/>
<rect x="466" y="855" width="1" height="6"/>
<rect x="495" y="855" width="1" height="3"/>
<rect x="524" y="855" width="1" height="6"/>
<rect x="552" y="855" width="1" height="3"/>
<rect x="581" y="855" width="1" height="6"/>
</g>
<g font-family="'Liberation Sans','Noto Sans CJK SC',sans-serif" font-size="12" fill="#000" letter-spacing="0.3">
<text x="109.05" y="822.2" text-anchor="end">25</text>
<text x="109.05" y="761.2" text-anchor="end">30</text>
<text x="109.05" y="701.2" text-anchor="end">35</text>
<text x="109.05" y="641.2" text-anchor="end">40</text>
<text x="109.05" y="580.2" text-anchor="end">45</text>
<text x="109.05" y="520.2" text-anchor="end">50</text>
<text x="120.8" y="876.0" text-anchor="middle">0</text>
<text x="177.8" y="876.0" text-anchor="middle">20</text>
<text x="235.8" y="876.0" text-anchor="middle">40</text>
<text x="292.8" y="876.0" text-anchor="middle">60</text>
<text x="350.8" y="876.0" text-anchor="middle">80</text>
<text x="408.8" y="876.0" text-anchor="middle">100</text>
<text x="465.8" y="876.0" text-anchor="middle">120</text>
<text x="523.8" y="876.0" text-anchor="middle">140</text>
<text x="580.8" y="876.0" text-anchor="middle">160</text>
</g>
<g fill="#000000" shape-rendering="crispEdges"><rect x="146" y="556" width="39" height="3"/><rect x="145" y="557" width="41" height="1"/></g>
<text x="188.4" y="562.8" font-family="'Liberation Sans','Noto Sans CJK SC',sans-serif" font-size="16.3" letter-spacing="0.3" fill="#111">0.33C</text>
<g fill="#ff0000" shape-rendering="crispEdges"><rect x="146" y="577" width="39" height="3"/><rect x="145" y="578" width="41" height="1"/></g>
<text x="188.4" y="583.0" font-family="'Liberation Sans','Noto Sans CJK SC',sans-serif" font-size="16.3" letter-spacing="0.3" fill="#111">1C</text>
<g fill="#0000ff" shape-rendering="crispEdges"><rect x="146" y="597" width="39" height="3"/><rect x="145" y="598" width="41" height="1"/></g>
<text x="188.4" y="603.3" font-family="'Liberation Sans','Noto Sans CJK SC',sans-serif" font-size="16.3" letter-spacing="0.3" fill="#111">3C</text>
<g fill="#ff00ff" shape-rendering="crispEdges"><rect x="146" y="617" width="39" height="3"/><rect x="145" y="618" width="41" height="1"/></g>
<text x="188.4" y="623.5" font-family="'Liberation Sans','Noto Sans CJK SC',sans-serif" font-size="16.3" letter-spacing="0.3" fill="#111">5C</text>
<g fill="#008000" shape-rendering="crispEdges"><rect x="146" y="638" width="39" height="3"/><rect x="145" y="639" width="41" height="1"/></g>
<text x="188.4" y="643.8" font-family="'Liberation Sans','Noto Sans CJK SC',sans-serif" font-size="16.3" letter-spacing="0.3" fill="#111">7C</text>
<text x="279.9" y="509.8" font-size="20.5" fill="#000" stroke="#000" stroke-width="0.15" font-family="'Liberation Sans','Noto Serif CJK SC',serif" letter-spacing="0.25">2.6<tspan font-size="19.5" font-weight="400" fill="#111" stroke="none" letter-spacing="2.0" dx="0.2" dy="0.6">压实倍率温升</tspan></text>
<text x="285.3" y="901.8" font-size="16" fill="#222" font-family="'Liberation Sans','Noto Sans CJK SC',sans-serif"><tspan font-weight="350">克容量（</tspan><tspan dx="1.4" letter-spacing="0.2">mAh/g</tspan><tspan dx="4.6" font-weight="350">）</tspan></text>
<text transform="translate(68.5,731.5) rotate(-90)" font-size="16" fill="#111" font-family="'Liberation Sans','Noto Serif CJK SC',serif"><tspan font-weight="400">温度</tspan><tspan dx="-1.2">（</tspan><tspan font-size="14.6" dx="1.2">°</tspan><tspan font-size="14.6" dx="-1.4">C</tspan><tspan dx="4.2">）</tspan></text>
</g>
<g>
<clipPath id="cp4"><rect x="798" y="528" width="460" height="338"/></clipPath><g clip-path="url(#cp4)">
<polyline points="806.1,844.5 807.1,844.5 808.1,844.5 809.1,843.3 810.1,843.3 811.2,842.1 812.2,842.1 813.2,842.1 814.2,842.1 815.2,842.1 816.2,843.3 817.2,843.3 818.2,844.5 819.2,844.5 820.2,844.5 821.2,844.5 822.2,843.3 823.2,843.3 824.2,843.3 825.2,842.1 826.2,842.1 827.3,842.1 828.3,842.1 829.3,842.1 830.3,843.3 831.3,843.3 832.3,844.5 833.3,844.5 834.3,844.5 835.3,844.5 836.3,843.3 837.3,843.3 838.3,842.1 839.3,842.1 840.3,842.1 841.3,842.1 842.3,842.1 843.4,842.1 844.4,843.3 845.4,843.3 846.4,844.5 847.4,844.5 848.4,844.5 849.4,844.5 850.4,843.3 851.4,843.3 852.4,842.1 853.4,842.1 854.4,842.1 855.4,842.1 856.4,842.1 857.4,842.1 858.5,842.1 859.5,843.3 860.5,843.3 861.5,843.3 862.5,843.3 863.5,842.1 864.5,842.1 865.5,842.1 866.5,840.9 867.5,840.9 868.5,840.9 869.5,840.9 870.5,840.9 871.5,840.9 872.5,842.1 873.5,842.1 874.6,843.3 875.6,843.3 876.6,842.1 877.6,842.1 878.6,842.1 879.6,840.9 880.6,840.9 881.6,840.9 882.6,840.9 883.6,840.9 884.6,840.9 885.6,842.1 886.6,842.1 887.6,842.1 888.6,843.3 889.6,843.3 890.7,842.1 891.7,842.1 892.7,842.1 893.7,840.9 894.7,840.9 895.7,840.9 896.7,840.9 897.7,840.9 898.7,840.9 899.7,842.1 900.7,842.1 901.7,843.3 902.7,843.3 903.7,843.3 904.7,842.1 905.7,842.1 906.8,842.1 907.8,840.9 908.8,840.9 909.8,840.9 910.8,840.9 911.8,840.9 912.8,840.9 913.8,842.1 914.8,842.1 915.8,843.3 916.8,843.3 917.8,843.3 918.8,842.1 919.8,842.1 920.8,840.9 921.8,840.9 922.9,840.9 923.9,840.9 924.9,840.9 925.9,840.9 926.9,840.9 927.9,842.1 928.9,842.1 929.9,843.3 930.9,843.3 931.9,842.1 932.9,842.1 933.9,842.1 934.9,840.9 935.9,840.9 936.9,840.9 937.9,840.9 939.0,840.9 940.0,840.9 941.0,842.1 942.0,842.1 943.0,842.1 944.0,843.3 945.0,843.3 946.0,842.1 947.0,842.1 948.0,842.1 949.0,840.9 950.0,840.9 951.0,840.9 952.0,840.9 953.0,840.9 954.0,840.9 955.1,842.1 956.1,842.1 957.1,843.3 958.1,843.3 959.1,843.3 960.1,842.1 961.1,842.1 962.1,840.9 963.1,840.9 964.1,840.9 965.1,840.9 966.1,840.9 967.1,840.9 968.1,840.9 969.1,842.1 970.1,842.1 971.2,843.3 972.2,843.3 973.2,842.1 974.2,842.1 975.2,842.1 976.2,840.9 977.2,840.9 978.2,840.9 979.2,840.9 980.2,840.9 981.2,840.9 982.2,840.9 983.2,842.1 984.2,842.1 985.2,843.3 986.2,843.3 987.3,842.1 988.3,842.1 989.3,842.1 990.3,840.9 991.3,840.9 992.3,840.9 993.3,840.9 994.3,840.9 995.3,840.9 996.3,842.1 997.3,842.1 998.3,842.1 999.3,843.3 1000.3,843.3 1001.3,842.1 1002.3,842.1 1003.4,842.1 1004.4,840.9 1005.4,840.9 1006.4,840.9 1007.4,840.9 1008.4,840.9 1009.4,840.9 1010.4,842.1 1011.4,842.1 1012.4,843.3 1013.4,843.3 1014.4,843.3 1015.4,842.1 1016.4,842.1 1017.4,840.9 1018.4,840.9 1019.4,840.9 1020.5,840.9 1021.5,840.9 1022.5,840.9 1023.5,840.9 1024.5,842.1 1025.5,842.1 1026.5,842.1 1027.5,843.3 1028.5,842.1 1029.5,842.1 1030.5,842.1 1031.5,840.9 1032.5,840.9 1033.5,840.9 1034.5,840.9 1035.5,840.9 1036.6,840.9 1037.6,842.1 1038.6,842.1 1039.6,842.1 1040.6,843.3 1041.6,843.3 1042.6,842.1 1043.6,842.1 1044.6,840.9 1045.6,840.9 1046.6,840.9 1047.6,840.9 1048.6,840.9 1049.6,840.9 1050.6,840.9 1051.6,842.1 1052.7,842.1 1053.7,842.1 1054.7,843.3 1055.7,843.3 1056.7,842.1 1057.7,842.1 1058.7,840.9 1059.7,840.9 1060.7,840.9 1061.7,840.9 1062.7,840.9 1063.7,840.9 1064.7,840.9 1065.7,842.1 1066.7,842.1 1067.7,843.3 1068.8,843.3 1069.8,842.1 1070.8,842.1 1071.8,842.1 1072.8,840.9 1073.8,840.9 1074.8,840.9 1075.8,840.9 1076.8,840.9 1077.8,840.9 1078.8,840.9 1079.8,842.1 1080.8,842.1 1081.8,842.1 1082.8,842.1 1083.8,842.1 1084.9,842.1 1085.9,840.9 1086.9,840.9 1087.9,840.9 1088.9,839.7 1089.9,840.9 1090.9,840.9 1091.9,840.9 1092.9,842.1 1093.9,842.1 1094.9,842.1 1095.9,843.3 1096.9,842.1 1097.9,842.1 1098.9,842.1 1099.9,840.9 1101.0,840.9 1102.0,840.9 1103.0,840.9 1104.0,840.9 1105.0,840.9 1106.0,840.9 1107.0,842.1 1108.0,842.1 1109.0,842.1 1110.0,843.3 1111.0,842.1 1112.0,842.1 1113.0,842.1 1114.0,840.9 1115.0,840.9 1116.0,840.9 1117.1,840.9 1118.1,840.9 1119.1,840.9 1120.1,840.9 1121.1,842.1 1122.1,842.1 1123.1,842.1 1124.1,842.1 1125.1,842.1 1126.1,842.1 1127.1,842.1 1128.1,840.9 1129.1,840.9 1130.1,839.7 1131.1,839.7 1132.1,840.9 1133.2,840.9 1134.2,840.9 1135.2,842.1 1136.2,842.1 1137.2,842.1 1138.2,842.1 1139.2,842.1 1140.2,842.1 1141.2,840.9 1142.2,840.9 1143.2,840.9 1144.2,839.7 1145.2,839.7 1146.2,840.9 1147.2,840.9 1148.2,840.9 1149.3,842.1 1150.3,842.1 1151.3,842.1 1152.3,842.1 1153.3,842.1 1154.3,840.9 1155.3,840.9 1156.3,840.9 1157.3,839.7 1158.3,839.7 1159.3,839.7 1160.3,839.7 1161.3,840.9 1162.3,840.9 1163.3,842.1 1164.3,842.1 1165.4,842.1 1166.4,842.1 1167.4,840.9 1168.4,840.9 1169.4,839.7 1170.4,839.7 1171.4,839.7 1172.4,839.7 1173.4,839.7 1174.4,839.7 1175.4,839.7 1176.4,840.9 1177.4,840.9 1178.4,840.9 1179.4,840.9 1180.4,840.9 1181.5,839.7 1182.5,839.7 1183.5,838.5 1184.5,838.5 1185.5,838.5 1186.5,837.3 1187.5,838.5 1188.5,838.5 1189.5,838.5 1190.5,839.7 1191.5,839.7 1192.5,839.7 1193.5,839.7 1194.5,838.5 1195.5,838.5 1196.5,837.3 1197.6,837.3 1198.6,837.3 1199.6,836.0 1200.6,836.0 1201.6,836.0 1202.6,837.3 1203.6,837.3 1204.6,837.3" fill="none" stroke="#000000" stroke-width="3.2" stroke-linejoin="round" stroke-linecap="round" shape-rendering="crispEdges"/>
<polyline points="797.5,844.5 798.5,844.5 799.5,844.5 800.5,844.5 801.5,843.3 802.5,842.1 803.5,842.1 804.5,842.1 805.5,842.1 806.6,840.9 807.6,840.9 808.6,840.9 809.6,840.9 810.6,842.1 811.6,842.1 812.6,842.1 813.6,842.1 814.6,842.1 815.6,842.1 816.6,840.9 817.6,840.9 818.6,840.9 819.6,840.9 820.6,839.7 821.6,838.5 822.7,838.5 823.7,838.5 824.7,838.5 825.7,838.5 826.7,838.5 827.7,838.5 828.7,837.3 829.7,836.0 830.7,836.0 831.7,836.0 832.7,836.0 833.7,836.0 834.7,836.0 835.7,836.0 836.7,836.0 837.8,836.0 838.8,836.0 839.8,836.0 840.8,836.0 841.8,836.0 842.8,836.0 843.8,836.0 844.8,836.0 845.8,836.0 846.8,836.0 847.8,837.3 848.8,838.5 849.8,838.5 850.8,838.5 851.8,838.5 852.8,838.5 853.9,838.5 854.9,838.5 855.9,838.5 856.9,838.5 857.9,838.5 858.9,838.5 859.9,838.5 860.9,838.5 861.9,837.3 862.9,837.3 863.9,837.3 864.9,837.3 865.9,837.3 866.9,837.3 867.9,837.3 868.9,837.3 870.0,837.3 871.0,837.3 872.0,837.3 873.0,837.3 874.0,837.3 875.0,837.3 876.0,836.0 877.0,836.0 878.0,836.0 879.0,836.0 880.0,836.0 881.0,836.0 882.0,836.0 883.0,836.0 884.0,836.0 885.0,836.0 886.1,836.0 887.1,836.0 888.1,836.0 889.1,836.0 890.1,836.0 891.1,836.0 892.1,836.0 893.1,836.0 894.1,836.0 895.1,836.0 896.1,836.0 897.1,836.0 898.1,837.3 899.1,837.3 900.1,837.3 901.1,837.3 902.2,837.3 903.2,837.3 904.2,837.3 905.2,837.3 906.2,837.3 907.2,837.3 908.2,837.3 909.2,837.3 910.2,837.3 911.2,837.3 912.2,837.3 913.2,837.3 914.2,837.3 915.2,837.3 916.2,837.3 917.2,837.3 918.3,837.3 919.3,837.3 920.3,837.3 921.3,836.0 922.3,836.0 923.3,836.0 924.3,836.0 925.3,836.0 926.3,836.0 927.3,836.0 928.3,836.0 929.3,836.0 930.3,836.0 931.3,836.0 932.3,836.0 933.3,836.0 934.4,836.0 935.4,836.0 936.4,836.0 937.4,836.0 938.4,836.0 939.4,836.0 940.4,836.0 941.4,836.0 942.4,836.0 943.4,836.0 944.4,836.0 945.4,836.0 946.4,836.0 947.4,836.0 948.4,836.0 949.4,836.0 950.5,836.0 951.5,836.0 952.5,837.3 953.5,837.3 954.5,837.3 955.5,837.3 956.5,837.3 957.5,838.5 958.5,838.5 959.5,838.5 960.5,838.5 961.5,838.5 962.5,838.5 963.5,838.5 964.5,838.5 965.5,838.5 966.6,838.5 967.6,838.5 968.6,838.5 969.6,838.5 970.6,838.5 971.6,838.5 972.6,838.5 973.6,837.3 974.6,837.3 975.6,837.3 976.6,837.3 977.6,837.3 978.6,837.3 979.6,837.3 980.6,837.3 981.6,837.3 982.7,836.0 983.7,836.0 984.7,836.0 985.7,836.0 986.7,836.0 987.7,836.0 988.7,836.0 989.7,836.0 990.7,836.0 991.7,836.0 992.7,836.0 993.7,836.0 994.7,836.0 995.7,836.0 996.7,836.0 997.7,836.0 998.8,836.0 999.8,836.0 1000.8,836.0 1001.8,836.0 1002.8,837.3 1003.8,837.3 1004.8,837.3 1005.8,837.3 1006.8,837.3 1007.8,837.3 1008.8,837.3 1009.8,837.3 1010.8,837.3 1011.8,837.3 1012.8,837.3 1013.8,837.3 1014.9,837.3 1015.9,837.3 1016.9,837.3 1017.9,837.3 1018.9,837.3 1019.9,837.3 1020.9,837.3 1021.9,837.3 1022.9,837.3 1023.9,837.3 1024.9,837.3 1025.9,837.3 1026.9,837.3 1027.9,837.3 1028.9,837.3 1029.9,837.3 1030.9,837.3 1032.0,836.0 1033.0,836.0 1034.0,836.0 1035.0,836.0 1036.0,836.0 1037.0,836.0 1038.0,836.0 1039.0,836.0 1040.0,836.0 1041.0,836.0 1042.0,836.0 1043.0,836.0 1044.0,834.8 1045.0,836.0 1046.0,836.0 1047.0,836.0 1048.1,836.0 1049.1,836.0 1050.1,836.0 1051.1,836.0 1052.1,836.0 1053.1,836.0 1054.1,836.0 1055.1,836.0 1056.1,836.0 1057.1,837.3 1058.1,837.3 1059.1,837.3 1060.1,837.3 1061.1,837.3 1062.1,837.3 1063.1,837.3 1064.2,837.3 1065.2,837.3 1066.2,837.3 1067.2,836.0 1068.2,836.0 1069.2,836.0 1070.2,836.0 1071.2,836.0 1072.2,836.0 1073.2,836.0 1074.2,836.0 1075.2,836.0 1076.2,836.0 1077.2,836.0 1078.2,836.0 1079.2,836.0 1080.3,836.0 1081.3,836.0 1082.3,836.0 1083.3,836.0 1084.3,834.8 1085.3,834.8 1086.3,834.8 1087.3,834.8 1088.3,834.8 1089.3,833.6 1090.3,832.4 1091.3,832.4 1092.3,832.4 1093.3,832.4 1094.3,832.4 1095.3,832.4 1096.4,832.4 1097.4,832.4 1098.4,832.4 1099.4,832.4 1100.4,832.4 1101.4,832.4 1102.4,832.4 1103.4,832.4 1104.4,832.4 1105.4,834.8 1106.4,836.0 1107.4,836.0 1108.4,836.0 1109.4,836.0 1110.4,836.0 1111.4,836.0 1112.5,836.0 1113.5,836.0 1114.5,836.0 1115.5,836.0 1116.5,834.8 1117.5,833.6 1118.5,832.4 1119.5,832.4 1120.5,832.4 1121.5,832.4 1122.5,832.4 1123.5,832.4 1124.5,831.2 1125.5,831.2 1126.5,831.2 1127.5,831.2 1128.6,831.2 1129.6,831.2 1130.6,831.2 1131.6,831.2 1132.6,831.2 1133.6,831.2 1134.6,830.0 1135.6,830.0 1136.6,830.0 1137.6,830.0 1138.6,830.0 1139.6,830.0 1140.6,828.8 1141.6,828.8 1142.6,828.8 1143.6,828.8 1144.7,828.8 1145.7,828.8 1146.7,827.6 1147.7,827.6 1148.7,826.4 1149.7,826.4 1150.7,826.4 1151.7,826.4 1152.7,826.4 1153.7,826.4 1154.7,826.4 1155.7,826.4 1156.7,826.4 1157.7,826.4 1158.7,826.4 1159.7,826.4 1160.8,826.4 1161.8,826.4 1162.8,826.4 1163.8,826.4 1164.8,826.4 1165.8,826.4 1166.8,826.4 1167.8,825.2 1168.8,825.2 1169.8,825.2 1170.8,824.0 1171.8,824.0 1172.8,824.0 1173.8,822.7 1174.8,821.5 1175.8,821.5 1176.9,821.5 1177.9,820.3 1178.9,820.3 1179.9,819.1 1180.9,819.1 1181.9,817.9 1182.9,817.9 1183.9,817.9 1184.9,817.9 1185.9,816.7 1186.9,816.7 1187.9,815.5 1188.9,814.3 1189.9,813.1 1190.9,813.1 1191.9,813.1 1193.0,811.8 1194.0,811.8 1195.0,811.8 1196.0,811.8 1197.0,811.8 1198.0,810.6 1199.0,810.6 1200.0,809.4 1201.0,809.4 1202.0,808.2 1203.0,808.2 1203.1,808.2" fill="none" stroke="#ff0000" stroke-width="3.6" stroke-linejoin="round" stroke-linecap="round" shape-rendering="crispEdges"/>
<polyline points="797.5,839.7 798.5,838.5 799.5,838.5 800.5,837.3 801.5,837.3 802.5,836.0 803.5,836.0 804.5,836.0 805.5,836.0 806.6,836.0 807.6,836.0 808.6,836.0 809.6,836.0 810.6,836.0 811.6,836.0 812.6,836.0 813.6,836.0 814.6,836.0 815.6,834.8 816.6,834.8 817.6,834.8 818.6,834.8 819.6,833.6 820.6,832.4 821.6,832.4 822.7,832.4 823.7,832.4 824.7,832.4 825.7,831.2 826.7,831.2 827.7,831.2 828.7,830.0 829.7,830.0 830.7,830.0 831.7,830.0 832.7,830.0 833.7,830.0 834.7,830.0 835.7,830.0 836.7,830.0 837.8,830.0 838.8,830.0 839.8,828.8 840.8,828.8 841.8,827.6 842.8,826.4 843.8,826.4 844.8,826.4 845.8,826.4 846.8,826.4 847.8,825.2 848.8,825.2 849.8,825.2 850.8,825.2 851.8,824.0 852.8,824.0 853.9,824.0 854.9,824.0 855.9,824.0 856.9,824.0 857.9,822.7 858.9,822.7 859.9,821.5 860.9,821.5 861.9,821.5 862.9,821.5 863.9,820.3 864.9,820.3 865.9,820.3 866.9,820.3 867.9,820.3 868.9,819.1 870.0,819.1 871.0,819.1 872.0,819.1 873.0,819.1 874.0,819.1 875.0,817.9 876.0,817.9 877.0,817.9 878.0,817.9 879.0,816.7 880.0,816.7 881.0,816.7 882.0,816.7 883.0,815.5 884.0,815.5 885.0,815.5 886.1,814.3 887.1,814.3 888.1,814.3 889.1,814.3 890.1,814.3 891.1,813.1 892.1,813.1 893.1,813.1 894.1,813.1 895.1,813.1 896.1,813.1 897.1,813.1 898.1,813.1 899.1,813.1 900.1,813.1 901.1,811.8 902.2,811.8 903.2,810.6 904.2,809.4 905.2,809.4 906.2,809.4 907.2,809.4 908.2,809.4 909.2,809.4 910.2,808.2 911.2,808.2 912.2,808.2 913.2,808.2 914.2,808.2 915.2,808.2 916.2,808.2 917.2,808.2 918.3,808.2 919.3,808.2 920.3,808.2 921.3,807.0 922.3,807.0 923.3,807.0 924.3,807.0 925.3,807.0 926.3,807.0 927.3,807.0 928.3,807.0 929.3,807.0 930.3,807.0 931.3,807.0 932.3,804.6 933.3,803.4 934.4,803.4 935.4,803.4 936.4,803.4 937.4,803.4 938.4,803.4 939.4,803.4 940.4,803.4 941.4,803.4 942.4,803.4 943.4,803.4 944.4,803.4 945.4,803.4 946.4,803.4 947.4,803.4 948.4,803.4 949.4,803.4 950.5,803.4 951.5,803.4 952.5,803.4 953.5,803.4 954.5,803.4 955.5,803.4 956.5,803.4 957.5,803.4 958.5,803.4 959.5,803.4 960.5,803.4 961.5,803.4 962.5,803.4 963.5,803.4 964.5,803.4 965.5,803.4 966.6,803.4 967.6,803.4 968.6,803.4 969.6,803.4 970.6,803.4 971.6,803.4 972.6,803.4 973.6,803.4 974.6,803.4 975.6,803.4 976.6,803.4 977.6,803.4 978.6,803.4 979.6,803.4 980.6,802.2 981.6,802.2 982.7,802.2 983.7,802.2 984.7,802.2 985.7,802.2 986.7,802.2 987.7,802.2 988.7,802.2 989.7,802.2 990.7,802.2 991.7,802.2 992.7,801.0 993.7,801.0 994.7,801.0 995.7,801.0 996.7,801.0 997.7,801.0 998.8,799.8 999.8,799.8 1000.8,798.5 1001.8,798.5 1002.8,798.5 1003.8,798.5 1004.8,798.5 1005.8,798.5 1006.8,798.5 1007.8,798.5 1008.8,798.5 1009.8,798.5 1010.8,797.3 1011.8,797.3 1012.8,797.3 1013.8,797.3 1014.9,797.3 1015.9,797.3 1016.9,797.3 1017.9,797.3 1018.9,797.3 1019.9,796.1 1020.9,796.1 1021.9,796.1 1022.9,796.1 1023.9,796.1 1024.9,796.1 1025.9,796.1 1026.9,796.1 1027.9,796.1 1028.9,794.9 1029.9,794.9 1030.9,793.7 1032.0,793.7 1033.0,793.7 1034.0,792.5 1035.0,792.5 1036.0,793.7 1037.0,793.7 1038.0,793.7 1039.0,793.7 1040.0,792.5 1041.0,792.5 1042.0,792.5 1043.0,792.5 1044.0,791.3 1045.0,791.3 1046.0,791.3 1047.0,791.3 1048.1,791.3 1049.1,791.3 1050.1,791.3 1051.1,791.3 1052.1,791.3 1053.1,790.1 1054.1,790.1 1055.1,790.1 1056.1,790.1 1057.1,790.1 1058.1,790.1 1059.1,790.1 1060.1,788.9 1061.1,787.6 1062.1,787.6 1063.1,786.4 1064.2,786.4 1065.2,786.4 1066.2,786.4 1067.2,785.2 1068.2,785.2 1069.2,785.2 1070.2,785.2 1071.2,785.2 1072.2,785.2 1073.2,785.2 1074.2,785.2 1075.2,785.2 1076.2,785.2 1077.2,786.4 1078.2,786.4 1079.2,786.4 1080.3,786.4 1081.3,786.4 1082.3,786.4 1083.3,786.4 1084.3,785.2 1085.3,785.2 1086.3,785.2 1087.3,785.2 1088.3,785.2 1089.3,785.2 1090.3,784.0 1091.3,784.0 1092.3,784.0 1093.3,784.0 1094.3,784.0 1095.3,784.0 1096.4,784.0 1097.4,784.0 1098.4,785.2 1099.4,785.2 1100.4,785.2 1101.4,785.2 1102.4,785.2 1103.4,785.2 1104.4,784.0 1105.4,784.0 1106.4,784.0 1107.4,784.0 1108.4,785.2 1109.4,785.2 1110.4,785.2 1111.4,785.2 1112.5,785.2 1113.5,785.2 1114.5,785.2 1115.5,785.2 1116.5,784.0 1117.5,784.0 1118.5,784.0 1119.5,784.0 1120.5,782.8 1121.5,782.8 1122.5,781.6 1123.5,780.4 1124.5,780.4 1125.5,780.4 1126.5,780.4 1127.5,779.2 1128.6,779.2 1129.6,778.0 1130.6,778.0 1131.6,778.0 1132.6,778.0 1133.6,778.0 1134.6,778.0 1135.6,776.8 1136.6,776.8 1137.6,776.8 1138.6,776.8 1139.6,776.8 1140.6,775.5 1141.6,775.5 1142.6,775.5 1143.6,774.3 1144.7,774.3 1145.7,774.3 1146.7,773.1 1147.7,773.1 1148.7,773.1 1149.7,773.1 1150.7,773.1 1151.7,773.1 1152.7,771.9 1153.7,771.9 1154.7,771.9 1155.7,770.7 1156.7,770.7 1157.7,769.5 1158.7,769.5 1159.7,769.5 1160.8,768.3 1161.8,768.3 1162.8,767.1 1163.8,767.1 1164.8,765.9 1165.8,764.7 1166.8,763.5 1167.8,762.2 1168.8,762.2 1169.8,761.0 1170.8,761.0 1171.8,759.8 1172.8,758.6 1173.8,758.6 1174.8,757.4 1175.8,757.4 1176.9,756.2 1177.9,755.0 1178.9,755.0 1179.9,753.8 1180.9,753.8 1181.9,752.6 1182.9,751.4 1183.9,751.4 1184.9,750.1 1185.9,748.9 1186.9,747.7 1187.9,746.5 1188.9,746.5 1189.9,745.3 1190.9,745.3 1191.9,744.1 1192.9,742.9" fill="none" stroke="#0000ff" stroke-width="3" stroke-linejoin="round" stroke-linecap="round" shape-rendering="crispEdges"/>
<polyline points="797.5,825.2 798.5,825.2 799.5,825.2 800.5,824.0 801.5,824.0 802.5,824.0 803.5,822.7 804.5,822.7 805.5,822.7 806.6,821.5 807.6,821.5 808.6,820.3 809.6,820.3 810.6,819.1 811.6,817.9 812.6,816.7 813.6,816.7 814.6,815.5 815.6,814.3 816.6,814.3 817.6,814.3 818.6,814.3 819.6,814.3 820.6,813.1 821.6,813.1 822.7,811.8 823.7,811.8 824.7,810.6 825.7,810.6 826.7,809.4 827.7,809.4 828.7,808.2 829.7,808.2 830.7,808.2 831.7,807.0 832.7,807.0 833.7,805.8 834.7,805.8 835.7,804.6 836.7,804.6 837.8,804.6 838.8,803.4 839.8,803.4 840.8,802.2 841.8,802.2 842.8,801.0 843.8,801.0 844.8,801.0 845.8,801.0 846.8,801.0 847.8,799.8 848.8,799.8 849.8,797.3 850.8,797.3 851.8,796.1 852.8,796.1 853.9,797.3 854.9,796.1 855.9,796.1 856.9,796.1 857.9,794.9 858.9,794.9 859.9,793.7 860.9,792.5 861.9,792.5 862.9,792.5 863.9,791.3 864.9,791.3 865.9,791.3 866.9,791.3 867.9,791.3 868.9,791.3 870.0,791.3 871.0,791.3 872.0,790.1 873.0,790.1 874.0,788.9 875.0,787.6 876.0,787.6 877.0,786.4 878.0,786.4 879.0,786.4 880.0,785.2 881.0,785.2 882.0,785.2 883.0,784.0 884.0,784.0 885.0,784.0 886.1,784.0 887.1,784.0 888.1,784.0 889.1,784.0 890.1,784.0 891.1,782.8 892.1,782.8 893.1,781.6 894.1,781.6 895.1,780.4 896.1,780.4 897.1,779.2 898.1,779.2 899.1,778.0 900.1,778.0 901.1,779.2 902.2,778.0 903.2,778.0 904.2,778.0 905.2,778.0 906.2,778.0 907.2,778.0 908.2,776.8 909.2,776.8 910.2,776.8 911.2,776.8 912.2,776.8 913.2,776.8 914.2,775.5 915.2,774.3 916.2,774.3 917.2,774.3 918.3,773.1 919.3,774.3 920.3,773.1 921.3,773.1 922.3,771.9 923.3,771.9 924.3,771.9 925.3,770.7 926.3,770.7 927.3,769.5 928.3,769.5 929.3,769.5 930.3,769.5 931.3,769.5 932.3,769.5 933.3,769.5 934.4,768.3 935.4,768.3 936.4,768.3 937.4,767.1 938.4,767.1 939.4,767.1 940.4,767.1 941.4,765.9 942.4,765.9 943.4,765.9 944.4,765.9 945.4,765.9 946.4,764.7 947.4,764.7 948.4,763.5 949.4,763.5 950.5,763.5 951.5,763.5 952.5,763.5 953.5,763.5 954.5,763.5 955.5,763.5 956.5,762.2 957.5,762.2 958.5,762.2 959.5,762.2 960.5,762.2 961.5,761.0 962.5,761.0 963.5,761.0 964.5,761.0 965.5,761.0 966.6,761.0 967.6,761.0 968.6,759.8 969.6,759.8 970.6,759.8 971.6,759.8 972.6,759.8 973.6,759.8 974.6,759.8 975.6,758.6 976.6,758.6 977.6,758.6 978.6,758.6 979.6,758.6 980.6,758.6 981.6,758.6 982.7,757.4 983.7,757.4 984.7,757.4 985.7,756.2 986.7,756.2 987.7,756.2 988.7,756.2 989.7,756.2 990.7,756.2 991.7,756.2 992.7,755.0 993.7,755.0 994.7,755.0 995.7,755.0 996.7,755.0 997.7,755.0 998.8,755.0 999.8,755.0 1000.8,755.0 1001.8,755.0 1002.8,755.0 1003.8,755.0 1004.8,753.8 1005.8,753.8 1006.8,752.6 1007.8,752.6 1008.8,751.4 1009.8,751.4 1010.8,751.4 1011.8,750.1 1012.8,750.1 1013.8,750.1 1014.9,750.1 1015.9,750.1 1016.9,750.1 1017.9,750.1 1018.9,750.1 1019.9,750.1 1020.9,750.1 1021.9,750.1 1022.9,750.1 1023.9,750.1 1024.9,750.1 1025.9,750.1 1026.9,750.1 1027.9,748.9 1028.9,748.9 1029.9,748.9 1030.9,748.9 1032.0,747.7 1033.0,747.7 1034.0,747.7 1035.0,747.7 1036.0,746.5 1037.0,746.5 1038.0,746.5 1039.0,746.5 1040.0,746.5 1041.0,746.5 1042.0,746.5 1043.0,745.3 1044.0,745.3 1045.0,745.3 1046.0,745.3 1047.0,745.3 1048.1,745.3 1049.1,745.3 1050.1,745.3 1051.1,745.3 1052.1,745.3 1053.1,744.1 1054.1,742.9 1055.1,742.9 1056.1,742.9 1057.1,741.7 1058.1,741.7 1059.1,741.7 1060.1,740.5 1061.1,740.5 1062.1,740.5 1063.1,740.5 1064.2,739.2 1065.2,739.2 1066.2,739.2 1067.2,739.2 1068.2,739.2 1069.2,738.0 1070.2,738.0 1071.2,738.0 1072.2,736.8 1073.2,736.8 1074.2,736.8 1075.2,736.8 1076.2,736.8 1077.2,735.6 1078.2,735.6 1079.2,734.4 1080.3,734.4 1081.3,733.2 1082.3,732.0 1083.3,732.0 1084.3,732.0 1085.3,732.0 1086.3,730.8 1087.3,730.8 1088.3,729.6 1089.3,729.6 1090.3,729.6 1091.3,729.6 1092.3,728.4 1093.3,728.4 1094.3,728.4 1095.3,728.4 1096.4,728.4 1097.4,728.4 1098.4,728.4 1099.4,727.1 1100.4,727.1 1101.4,727.1 1102.4,727.1 1103.4,725.9 1104.4,725.9 1105.4,724.7 1106.4,723.5 1107.4,722.3 1108.4,722.3 1109.4,721.1 1110.4,719.9 1111.4,719.9 1112.5,718.7 1113.5,718.7 1114.5,718.7 1115.5,718.7 1116.5,717.5 1117.5,717.5 1118.5,717.5 1119.5,717.5 1120.5,717.5 1121.5,716.3 1122.5,716.3 1123.5,715.0 1124.5,715.0 1125.5,713.8 1126.5,712.6 1127.5,712.6 1128.6,711.4 1129.6,710.2 1130.6,710.2 1131.6,709.0 1132.6,707.8 1133.6,707.8 1134.6,707.8 1135.6,706.6 1136.6,706.6 1137.6,706.6 1138.6,705.4 1139.6,705.4 1140.6,705.4 1141.6,704.2 1142.6,703.0 1143.6,701.7 1144.7,700.5 1145.7,699.3 1146.7,698.1 1147.7,696.9 1148.7,696.9 1149.7,695.7 1150.7,694.5 1151.7,693.3 1152.7,692.1 1153.7,692.1 1154.7,690.9 1155.7,689.6 1156.7,689.6 1157.7,688.4 1158.7,687.2 1159.7,687.2 1160.8,686.0 1161.8,686.0 1162.8,686.0 1163.8,684.8 1164.8,683.6 1165.8,682.4 1166.8,681.2 1167.8,680.0 1168.8,678.8 1169.8,678.8 1170.8,677.5 1171.8,676.3 1172.8,675.1 1173.8,675.1 1174.8,673.9 1175.8,673.9 1176.9,672.7 1177.9,671.5 1178.9,670.3 1179.9,670.3 1180.9,669.1 1181.9,667.9 1182.9,666.6 1183.9,665.4 1184.8,665.4" fill="none" stroke="#ff00ff" stroke-width="3" stroke-linejoin="round" stroke-linecap="round" shape-rendering="crispEdges"/>
<polyline points="797.5,824.0 798.5,824.0 799.5,824.0 800.5,824.0 801.5,824.0 802.5,822.7 803.5,822.7 804.5,821.5 805.5,821.5 806.6,821.5 807.6,820.3 808.6,820.3 809.6,820.3 810.6,819.1 811.6,819.1 812.6,817.9 813.6,817.9 814.6,817.9 815.6,817.9 816.6,816.7 817.6,816.7 818.6,815.5 819.6,814.3 820.6,813.1 821.6,811.8 822.7,811.8 823.7,810.6 824.7,810.6 825.7,810.6 826.7,809.4 827.7,809.4 828.7,808.2 829.7,808.2 830.7,808.2 831.7,807.0 832.7,804.6 833.7,803.4 834.7,802.2 835.7,802.2 836.7,802.2 837.8,802.2 838.8,802.2 839.8,801.0 840.8,799.8 841.8,798.5 842.8,797.3 843.8,797.3 844.8,796.1 845.8,797.3 846.8,796.1 847.8,796.1 848.8,794.9 849.8,794.9 850.8,793.7 851.8,793.7 852.8,792.5 853.9,792.5 854.9,792.5 855.9,791.3 856.9,790.1 857.9,790.1 858.9,788.9 859.9,787.6 860.9,787.6 861.9,786.4 862.9,786.4 863.9,785.2 864.9,784.0 865.9,784.0 866.9,782.8 867.9,781.6 868.9,780.4 870.0,780.4 871.0,779.2 872.0,778.0 873.0,778.0 874.0,778.0 875.0,776.8 876.0,776.8 877.0,776.8 878.0,775.5 879.0,775.5 880.0,774.3 881.0,774.3 882.0,773.1 883.0,773.1 884.0,771.9 885.0,771.9 886.1,771.9 887.1,770.7 888.1,769.5 889.1,769.5 890.1,768.3 891.1,768.3 892.1,767.1 893.1,767.1 894.1,765.9 895.1,764.7 896.1,763.5 897.1,763.5 898.1,762.2 899.1,762.2 900.1,762.2 901.1,761.0 902.2,761.0 903.2,759.8 904.2,758.6 905.2,757.4 906.2,757.4 907.2,756.2 908.2,756.2 909.2,756.2 910.2,755.0 911.2,755.0 912.2,753.8 913.2,753.8 914.2,752.6 915.2,752.6 916.2,751.4 917.2,751.4 918.3,750.1 919.3,750.1 920.3,748.9 921.3,747.7 922.3,747.7 923.3,746.5 924.3,745.3 925.3,745.3 926.3,744.1 927.3,745.3 928.3,744.1 929.3,744.1 930.3,744.1 931.3,742.9 932.3,742.9 933.3,742.9 934.4,741.7 935.4,741.7 936.4,741.7 937.4,741.7 938.4,740.5 939.4,740.5 940.4,740.5 941.4,739.2 942.4,739.2 943.4,739.2 944.4,738.0 945.4,738.0 946.4,736.8 947.4,735.6 948.4,735.6 949.4,734.4 950.5,733.2 951.5,733.2 952.5,732.0 953.5,732.0 954.5,730.8 955.5,730.8 956.5,729.6 957.5,728.4 958.5,728.4 959.5,727.1 960.5,727.1 961.5,725.9 962.5,725.9 963.5,724.7 964.5,724.7 965.5,723.5 966.6,723.5 967.6,722.3 968.6,722.3 969.6,722.3 970.6,721.1 971.6,721.1 972.6,719.9 973.6,719.9 974.6,718.7 975.6,718.7 976.6,717.5 977.6,717.5 978.6,717.5 979.6,716.3 980.6,716.3 981.6,716.3 982.7,715.0 983.7,715.0 984.7,713.8 985.7,713.8 986.7,712.6 987.7,711.4 988.7,710.2 989.7,710.2 990.7,709.0 991.7,709.0 992.7,707.8 993.7,707.8 994.7,706.6 995.7,706.6 996.7,705.4 997.7,705.4 998.8,704.2 999.8,703.0 1000.8,703.0 1001.8,703.0 1002.8,701.7 1003.8,701.7 1004.8,700.5 1005.8,700.5 1006.8,699.3 1007.8,699.3 1008.8,698.1 1009.8,696.9 1010.8,696.9 1011.8,695.7 1012.8,695.7 1013.8,694.5 1014.9,693.3 1015.9,693.3 1016.9,692.1 1017.9,692.1 1018.9,690.9 1019.9,689.6 1020.9,689.6 1021.9,688.4 1022.9,687.2 1023.9,687.2 1024.9,686.0 1025.9,684.8 1026.9,684.8 1027.9,683.6 1028.9,682.4 1029.9,682.4 1030.9,681.2 1032.0,680.0 1033.0,678.8 1034.0,677.5 1035.0,676.3 1036.0,675.1 1037.0,673.9 1038.0,672.7 1039.0,671.5 1040.0,670.3 1041.0,670.3 1042.0,669.1 1043.0,667.9 1044.0,667.9 1045.0,666.6 1046.0,666.6 1047.0,665.4 1048.1,665.4 1049.1,664.2 1050.1,664.2 1051.1,663.0 1052.1,663.0 1053.1,661.8 1054.1,659.4 1055.1,658.2 1056.1,657.0 1057.1,655.8 1058.1,654.5 1059.1,653.3 1060.1,652.1 1061.1,650.9 1062.1,649.7 1063.1,648.5 1064.2,647.3 1065.2,647.3 1066.2,646.1 1067.2,644.9 1068.2,643.7 1069.2,642.5 1070.2,641.2 1071.2,640.0 1072.2,638.8 1073.2,637.6 1074.2,636.4 1075.2,635.2 1076.2,634.0 1077.2,631.6 1078.2,631.6 1079.2,630.4 1080.3,629.1 1081.3,627.9 1082.3,626.7 1083.3,625.5 1084.3,624.3 1085.3,623.1 1086.3,620.7 1087.3,619.5 1088.3,618.2 1089.3,618.2 1090.3,617.0 1091.3,615.8 1092.3,615.8 1093.3,614.6 1094.3,613.4 1095.3,612.2 1096.4,611.0 1097.4,611.0 1098.4,608.6 1099.4,606.1 1100.4,604.9 1101.4,603.7 1102.4,602.5 1103.4,601.3 1104.4,601.3 1105.4,600.1 1106.4,598.9 1107.4,598.9 1108.4,597.7 1109.4,596.5 1110.4,595.3 1111.4,595.3 1112.5,594.0 1113.5,592.8 1114.5,591.6 1115.5,591.6 1116.5,590.4 1117.5,590.4 1118.5,589.2 1119.5,588.0 1120.5,588.0 1121.5,586.8 1122.5,585.6 1123.5,585.6 1124.5,583.2 1125.5,580.7 1126.5,578.3 1127.5,577.1 1128.6,575.9 1129.6,575.9 1130.6,574.7 1131.6,573.5 1132.6,571.1 1133.6,571.1 1134.6,569.9 1135.6,568.6 1136.6,567.4 1137.6,566.2 1138.6,566.2 1139.6,565.0 1140.6,563.8 1141.6,562.6 1142.6,561.4 1143.6,561.4 1144.7,560.2 1145.7,560.2 1146.7,557.8 1147.7,556.5 1148.7,555.3 1149.7,554.1 1150.7,551.7 1150.7,551.7" fill="none" stroke="#008000" stroke-width="3" stroke-linejoin="round" stroke-linecap="round" shape-rendering="crispEdges"/>
</g>
<g fill="#000" shape-rendering="crispEdges">
<rect x="797" y="527" width="461" height="1"/>
<rect x="797" y="865" width="461" height="1"/>
<rect x="797" y="527" width="1" height="339"/>
<rect x="1257" y="527" width="1" height="339"/>
<rect x="794" y="859" width="3" height="1"/>
<rect x="790" y="829" width="7" height="1"/>
<rect x="794" y="798" width="3" height="1"/>
<rect x="790" y="768" width="7" height="1"/>
<rect x="794" y="738" width="3" height="1"/>
<rect x="790" y="708" width="7" height="1"/>
<rect x="794" y="678" width="3" height="1"/>
<rect x="790" y="647" width="7" height="1"/>
<rect x="794" y="617" width="3" height="1"/>
<rect x="790" y="587" width="7" height="1"/>
<rect x="794" y="557" width="3" height="1"/>
<rect x="790" y="527" width="7" height="1"/>
<rect x="797" y="866" width="1" height="6"/>
<rect x="826" y="866" width="1" height="3"/>
<rect x="854" y="866" width="1" height="6"/>
<rect x="883" y="866" width="1" height="3"/>
<rect x="912" y="866" width="1" height="6"/>
<rect x="941" y="866" width="1" height="3"/>
<rect x="969" y="866" width="1" height="6"/>
<rect x="998" y="866" width="1" height="3"/>
<rect x="1027" y="866" width="1" height="6"/>
<rect x="1056" y="866" width="1" height="3"/>
<rect x="1085" y="866" width="1" height="6"/>
<rect x="1113" y="866" width="1" height="3"/>
<rect x="1142" y="866" width="1" height="6"/>
<rect x="1171" y="866" width="1" height="3"/>
<rect x="1200" y="866" width="1" height="6"/>
<rect x="1228" y="866" width="1" height="3"/>
<rect x="1257" y="866" width="1" height="6"/>
</g>
<g font-family="'Liberation Sans','Noto Sans CJK SC',sans-serif" font-size="12" fill="#000" letter-spacing="0.3">
<text x="785.05" y="832.2" text-anchor="end">25</text>
<text x="785.05" y="772.2" text-anchor="end">30</text>
<text x="785.05" y="712.2" text-anchor="end">35</text>
<text x="785.05" y="651.2" text-anchor="end">40</text>
<text x="785.05" y="591.2" text-anchor="end">45</text>
<text x="785.05" y="530.2" text-anchor="end">50</text>
<text x="796.8" y="887.0" text-anchor="middle">0</text>
<text x="853.8" y="887.0" text-anchor="middle">20</text>
<text x="911.8" y="887.0" text-anchor="middle">40</text>
<text x="968.8" y="887.0" text-anchor="middle">60</text>
<text x="1026.8" y="887.0" text-anchor="middle">80</text>
<text x="1084.8" y="887.0" text-anchor="middle">100</text>
<text x="1141.8" y="887.0" text-anchor="middle">120</text>
<text x="1199.8" y="887.0" text-anchor="middle">140</text>
<text x="1256.8" y="887.0" text-anchor="middle">160</text>
</g>
<g fill="#000000" shape-rendering="crispEdges"><rect x="822" y="567" width="39" height="3"/><rect x="821" y="568" width="41" height="1"/></g>
<text x="864.4" y="573.8" font-family="'Liberation Sans','Noto Sans CJK SC',sans-serif" font-size="16.3" letter-spacing="0.3" fill="#111">0.33C</text>
<g fill="#ff0000" shape-rendering="crispEdges"><rect x="822" y="588" width="39" height="3"/><rect x="821" y="589" width="41" height="1"/></g>
<text x="864.4" y="594.0" font-family="'Liberation Sans','Noto Sans CJK SC',sans-serif" font-size="16.3" letter-spacing="0.3" fill="#111">1C</text>
<g fill="#0000ff" shape-rendering="crispEdges"><rect x="822" y="608" width="39" height="3"/><rect x="821" y="609" width="41" height="1"/></g>
<text x="864.4" y="614.3" font-family="'Liberation Sans','Noto Sans CJK SC',sans-serif" font-size="16.3" letter-spacing="0.3" fill="#111">3C</text>
<g fill="#ff00ff" shape-rendering="crispEdges"><rect x="822" y="628" width="39" height="3"/><rect x="821" y="629" width="41" height="1"/></g>
<text x="864.4" y="634.5" font-family="'Liberation Sans','Noto Sans CJK SC',sans-serif" font-size="16.3" letter-spacing="0.3" fill="#111">5C</text>
<g fill="#008000" shape-rendering="crispEdges"><rect x="822" y="649" width="39" height="3"/><rect x="821" y="650" width="41" height="1"/></g>
<text x="864.4" y="654.8" font-family="'Liberation Sans','Noto Sans CJK SC',sans-serif" font-size="16.3" letter-spacing="0.3" fill="#111">7C</text>
<text x="951.1" y="519.8" font-size="20.5" fill="#000" stroke="#000" stroke-width="0.15" font-family="'Liberation Sans','Noto Serif CJK SC',serif" letter-spacing="0.25">2.65<tspan font-size="19.5" font-weight="400" fill="#111" stroke="none" letter-spacing="2.0" dx="0.2" dy="0.6">压实倍率温升</tspan></text>
<text x="961.3" y="912.8" font-size="16" fill="#222" font-family="'Liberation Sans','Noto Sans CJK SC',sans-serif"><tspan font-weight="350">克容量（</tspan><tspan dx="1.4" letter-spacing="0.2">mAh/g</tspan><tspan dx="4.6" font-weight="350">）</tspan></text>
<text transform="translate(744.5,742.5) rotate(-90)" font-size="16" fill="#111" font-family="'Liberation Sans','Noto Serif CJK SC',serif"><tspan font-weight="400">温度</tspan><tspan dx="-1.2">（</tspan><tspan font-size="14.6" dx="1.2">°</tspan><tspan font-size="14.6" dx="-1.4">C</tspan><tspan dx="4.2">）</tspan></text>
</g>
</svg></body></html>
